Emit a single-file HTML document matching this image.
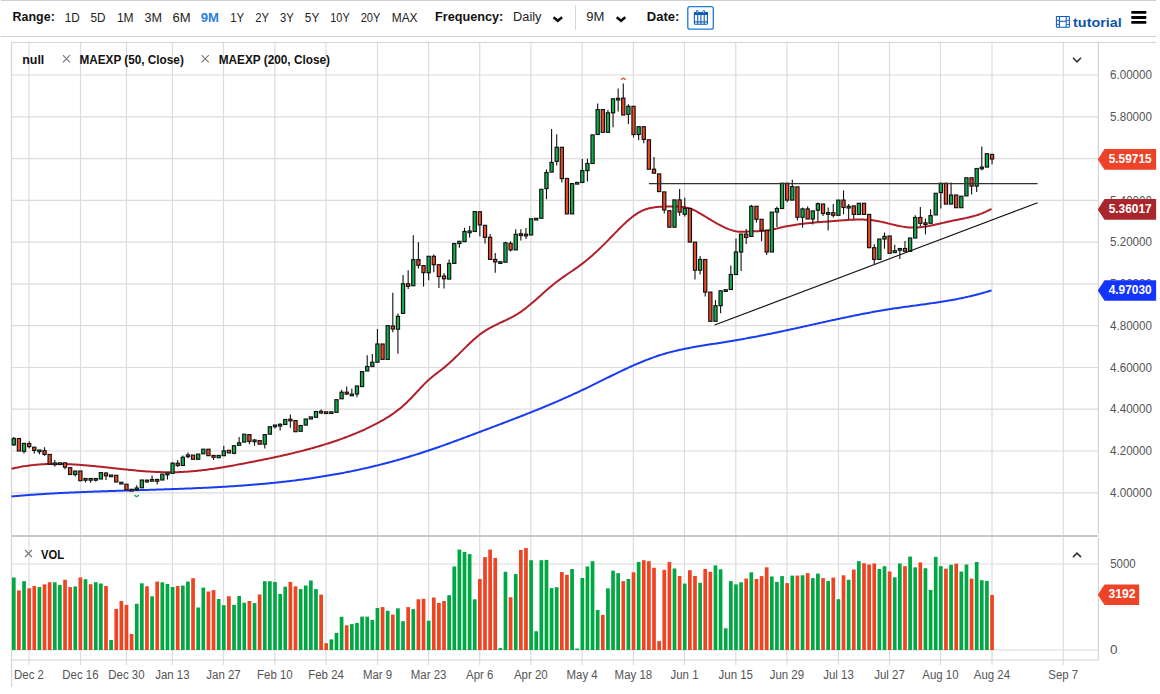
<!DOCTYPE html>
<html><head><meta charset="utf-8"><style>
html,body{margin:0;padding:0;background:#fff;width:1160px;height:694px;overflow:hidden}
svg{display:block;font-family:"Liberation Sans",sans-serif}
</style></head><body>
<svg width="1160" height="694" viewBox="0 0 1160 694">
<rect x="1" y="0" width="1155" height="1" fill="#d0d0d0"/>
<rect x="1" y="36" width="1155" height="1" fill="#d0d0d0"/>
<text x="12.6" y="21.4" font-size="12" font-weight="bold" fill="#111" textLength="42.2" lengthAdjust="spacingAndGlyphs">Range:</text>
<text x="64.7" y="22.3" font-size="12" font-weight="normal" fill="#222" textLength="15.0" lengthAdjust="spacingAndGlyphs">1D</text>
<text x="90.5" y="22.3" font-size="12" font-weight="normal" fill="#222" textLength="15.0" lengthAdjust="spacingAndGlyphs">5D</text>
<text x="116.9" y="22.3" font-size="12" font-weight="normal" fill="#222" textLength="16.7" lengthAdjust="spacingAndGlyphs">1M</text>
<text x="144.5" y="22.3" font-size="12" font-weight="normal" fill="#222" textLength="17.5" lengthAdjust="spacingAndGlyphs">3M</text>
<text x="172.4" y="22.3" font-size="12" font-weight="normal" fill="#222" textLength="18.1" lengthAdjust="spacingAndGlyphs">6M</text>
<text x="200.8" y="22.3" font-size="12" font-weight="bold" fill="#2d7fe0" textLength="18.2" lengthAdjust="spacingAndGlyphs">9M</text>
<text x="230.3" y="22.3" font-size="12" font-weight="normal" fill="#222" textLength="13.9" lengthAdjust="spacingAndGlyphs">1Y</text>
<text x="255.2" y="22.3" font-size="12" font-weight="normal" fill="#222" textLength="13.8" lengthAdjust="spacingAndGlyphs">2Y</text>
<text x="280.0" y="22.3" font-size="12" font-weight="normal" fill="#222" textLength="13.9" lengthAdjust="spacingAndGlyphs">3Y</text>
<text x="304.8" y="22.3" font-size="12" font-weight="normal" fill="#222" textLength="14.5" lengthAdjust="spacingAndGlyphs">5Y</text>
<text x="330.3" y="22.3" font-size="12" font-weight="normal" fill="#222" textLength="19.4" lengthAdjust="spacingAndGlyphs">10Y</text>
<text x="360.7" y="22.3" font-size="12" font-weight="normal" fill="#222" textLength="19.7" lengthAdjust="spacingAndGlyphs">20Y</text>
<text x="391.7" y="22.3" font-size="12" font-weight="normal" fill="#222" textLength="25.9" lengthAdjust="spacingAndGlyphs">MAX</text>
<text x="435.0" y="21.4" font-size="12" font-weight="bold" fill="#111" textLength="68.3" lengthAdjust="spacingAndGlyphs">Frequency:</text>
<text x="513.1" y="21.4" font-size="12" font-weight="normal" fill="#222" textLength="28.4" lengthAdjust="spacingAndGlyphs">Daily</text>
<polyline points="553.5,17.2 557.8,20.8 562.1,17.2" fill="none" stroke="#111" stroke-width="2.5"/>
<rect x="575" y="5" width="1" height="25" fill="#d8d8d8"/>
<text x="586.3" y="21.4" font-size="12" font-weight="normal" fill="#222" textLength="18.1" lengthAdjust="spacingAndGlyphs">9M</text>
<polyline points="616.7,17.2 621.0,20.8 625.3,17.2" fill="none" stroke="#111" stroke-width="2.5"/>
<text x="646.8" y="21.4" font-size="12" font-weight="bold" fill="#111" textLength="32.6" lengthAdjust="spacingAndGlyphs">Date:</text>
<rect x="687.8" y="6.7" width="25.5" height="22.5" rx="2" fill="#fff" stroke="#1f7ad8" stroke-width="1.3"/>
<g fill="none" stroke="#0d5cb6" stroke-width="1.1"><rect x="694.4" y="12.6" width="13" height="11.6" rx="0.6"/><line x1="697.7" y1="14" x2="697.7" y2="24.2"/><line x1="700.9" y1="14" x2="700.9" y2="24.2"/><line x1="704.2" y1="14" x2="704.2" y2="24.2"/><line x1="694.4" y1="21.9" x2="707.4" y2="21.9"/></g>
<g fill="#0d5cb6"><rect x="694" y="12.1" width="13.8" height="2.8" rx="0.6"/><rect x="695.9" y="10.2" width="2.5" height="3.4" rx="0.8"/><rect x="702.5" y="10.2" width="2.5" height="3.4" rx="0.8"/></g>
<g fill="#fff"><rect x="696.8" y="10.9" width="0.7" height="2.2"/><rect x="703.4" y="10.9" width="0.7" height="2.2"/></g>
<g fill="none" stroke="#0b5cc0" stroke-width="1.05"><rect x="1056.4" y="16.4" width="13" height="10.9" rx="0.6"/><line x1="1059.4" y1="16.4" x2="1059.4" y2="27.3"/><line x1="1066.2" y1="16.4" x2="1066.2" y2="27.3"/><line x1="1059.4" y1="21.3" x2="1066.2" y2="21.3"/></g>
<g fill="#0b5cc0"><rect x="1056.4" y="19.9" width="3" height="0.9"/><rect x="1056.4" y="23.9" width="3" height="0.9"/><rect x="1066.2" y="19.9" width="3" height="0.9"/><rect x="1066.2" y="23.9" width="3" height="0.9"/></g>
<text x="1073.1" y="26.7" font-size="13" font-weight="bold" fill="#0b55a8" textLength="48.6" lengthAdjust="spacingAndGlyphs">tutorial</text>
<g fill="#000"><rect x="1131.2" y="10.9" width="15.2" height="2.9" rx="0.8"/><rect x="1131.2" y="16.0" width="15.2" height="2.9" rx="0.8"/><rect x="1131.2" y="20.9" width="15.2" height="2.9" rx="0.8"/></g>
<line x1="29.0" y1="42.5" x2="29.0" y2="665" stroke="#dcdcdc" stroke-width="1.2"/>
<line x1="80.5" y1="42.5" x2="80.5" y2="665" stroke="#dcdcdc" stroke-width="1.2"/>
<line x1="126.5" y1="42.5" x2="126.5" y2="665" stroke="#dcdcdc" stroke-width="1.2"/>
<line x1="172.4" y1="42.5" x2="172.4" y2="665" stroke="#dcdcdc" stroke-width="1.2"/>
<line x1="223.5" y1="42.5" x2="223.5" y2="665" stroke="#dcdcdc" stroke-width="1.2"/>
<line x1="274.8" y1="42.5" x2="274.8" y2="665" stroke="#dcdcdc" stroke-width="1.2"/>
<line x1="326" y1="42.5" x2="326" y2="665" stroke="#dcdcdc" stroke-width="1.2"/>
<line x1="377.5" y1="42.5" x2="377.5" y2="665" stroke="#dcdcdc" stroke-width="1.2"/>
<line x1="428.6" y1="42.5" x2="428.6" y2="665" stroke="#dcdcdc" stroke-width="1.2"/>
<line x1="479.7" y1="42.5" x2="479.7" y2="665" stroke="#dcdcdc" stroke-width="1.2"/>
<line x1="530.8" y1="42.5" x2="530.8" y2="665" stroke="#dcdcdc" stroke-width="1.2"/>
<line x1="582.1" y1="42.5" x2="582.1" y2="665" stroke="#dcdcdc" stroke-width="1.2"/>
<line x1="633.4" y1="42.5" x2="633.4" y2="665" stroke="#dcdcdc" stroke-width="1.2"/>
<line x1="684.5" y1="42.5" x2="684.5" y2="665" stroke="#dcdcdc" stroke-width="1.2"/>
<line x1="735.8" y1="42.5" x2="735.8" y2="665" stroke="#dcdcdc" stroke-width="1.2"/>
<line x1="786.9" y1="42.5" x2="786.9" y2="665" stroke="#dcdcdc" stroke-width="1.2"/>
<line x1="838.5" y1="42.5" x2="838.5" y2="665" stroke="#dcdcdc" stroke-width="1.2"/>
<line x1="889.5" y1="42.5" x2="889.5" y2="665" stroke="#dcdcdc" stroke-width="1.2"/>
<line x1="940.5" y1="42.5" x2="940.5" y2="665" stroke="#dcdcdc" stroke-width="1.2"/>
<line x1="992" y1="42.5" x2="992" y2="665" stroke="#dcdcdc" stroke-width="1.2"/>
<line x1="1063.3" y1="42.5" x2="1063.3" y2="665" stroke="#dcdcdc" stroke-width="1.2"/>
<line x1="11.5" y1="75.0" x2="1098.4" y2="75.0" stroke="#dcdcdc" stroke-width="1.2"/>
<line x1="11.5" y1="116.8" x2="1098.4" y2="116.8" stroke="#dcdcdc" stroke-width="1.2"/>
<line x1="11.5" y1="158.6" x2="1098.4" y2="158.6" stroke="#dcdcdc" stroke-width="1.2"/>
<line x1="11.5" y1="200.3" x2="1098.4" y2="200.3" stroke="#dcdcdc" stroke-width="1.2"/>
<line x1="11.5" y1="242.1" x2="1098.4" y2="242.1" stroke="#dcdcdc" stroke-width="1.2"/>
<line x1="11.5" y1="283.9" x2="1098.4" y2="283.9" stroke="#dcdcdc" stroke-width="1.2"/>
<line x1="11.5" y1="325.7" x2="1098.4" y2="325.7" stroke="#dcdcdc" stroke-width="1.2"/>
<line x1="11.5" y1="367.5" x2="1098.4" y2="367.5" stroke="#dcdcdc" stroke-width="1.2"/>
<line x1="11.5" y1="409.2" x2="1098.4" y2="409.2" stroke="#dcdcdc" stroke-width="1.2"/>
<line x1="11.5" y1="451.0" x2="1098.4" y2="451.0" stroke="#dcdcdc" stroke-width="1.2"/>
<line x1="11.5" y1="492.8" x2="1098.4" y2="492.8" stroke="#dcdcdc" stroke-width="1.2"/>
<line x1="11.5" y1="564" x2="1098.4" y2="564" stroke="#dcdcdc" stroke-width="1.2"/>
<line x1="11.5" y1="650" x2="1098.4" y2="650" stroke="#dcdcdc" stroke-width="1.2"/>
<line x1="11.5" y1="42.5" x2="1156" y2="42.5" stroke="#d4d4d4" stroke-width="1.2"/>
<line x1="11.5" y1="42.5" x2="11.5" y2="687" stroke="#d4d4d4" stroke-width="1.2"/>
<line x1="1098.4" y1="42.5" x2="1098.4" y2="533.6" stroke="#d4d4d4" stroke-width="1.2"/>
<line x1="1098.4" y1="538.1" x2="1098.4" y2="660" stroke="#d4d4d4" stroke-width="1.2"/>
<line x1="11.5" y1="536" x2="1097.9" y2="536" stroke="#c8c8c8" stroke-width="2"/>
<line x1="11.5" y1="660" x2="1098.4" y2="660" stroke="#d4d4d4" stroke-width="1.2"/>
<text x="22.3" y="63.8" font-size="12" font-weight="bold" fill="#111" textLength="22.0" lengthAdjust="spacingAndGlyphs">null</text>
<path d="M62.9,55.1L70.1,62.3M70.1,55.1L62.9,62.3" stroke="#777" stroke-width="1.1" fill="none"/>
<text x="79.5" y="63.8" font-size="12" font-weight="bold" fill="#111" textLength="104.3" lengthAdjust="spacingAndGlyphs">MAEXP (50, Close)</text>
<path d="M201.6,55.1L208.8,62.3M208.8,55.1L201.6,62.3" stroke="#777" stroke-width="1.1" fill="none"/>
<text x="218.7" y="63.8" font-size="12" font-weight="bold" fill="#111" textLength="111.3" lengthAdjust="spacingAndGlyphs">MAEXP (200, Close)</text>
<polyline points="1073.0,57.8 1077.0,61.8 1081.0,57.8" fill="none" stroke="#333" stroke-width="1.6"/>
<polyline points="1073.0,557.1 1077.0,553.1 1081.0,557.1" fill="none" stroke="#333" stroke-width="1.6"/>
<path d="M25.0,550.0L32.0,557.0M32.0,550.0L25.0,557.0" stroke="#777" stroke-width="1.1" fill="none"/>
<text x="41.0" y="559.0" font-size="12" font-weight="bold" fill="#111" textLength="23.0" lengthAdjust="spacingAndGlyphs">VOL</text>
<text x="1110.0" y="79.2" font-size="12" font-weight="normal" fill="#555" textLength="42.0" lengthAdjust="spacingAndGlyphs">6.00000</text>
<text x="1110.0" y="121.0" font-size="12" font-weight="normal" fill="#555" textLength="42.0" lengthAdjust="spacingAndGlyphs">5.80000</text>
<text x="1110.0" y="162.8" font-size="12" font-weight="normal" fill="#555" textLength="42.0" lengthAdjust="spacingAndGlyphs">5.60000</text>
<text x="1110.0" y="204.5" font-size="12" font-weight="normal" fill="#555" textLength="42.0" lengthAdjust="spacingAndGlyphs">5.40000</text>
<text x="1110.0" y="246.3" font-size="12" font-weight="normal" fill="#555" textLength="42.0" lengthAdjust="spacingAndGlyphs">5.20000</text>
<text x="1110.0" y="288.1" font-size="12" font-weight="normal" fill="#555" textLength="42.0" lengthAdjust="spacingAndGlyphs">5.00000</text>
<text x="1110.0" y="329.9" font-size="12" font-weight="normal" fill="#555" textLength="42.0" lengthAdjust="spacingAndGlyphs">4.80000</text>
<text x="1110.0" y="371.7" font-size="12" font-weight="normal" fill="#555" textLength="42.0" lengthAdjust="spacingAndGlyphs">4.60000</text>
<text x="1110.0" y="413.4" font-size="12" font-weight="normal" fill="#555" textLength="42.0" lengthAdjust="spacingAndGlyphs">4.40000</text>
<text x="1110.0" y="455.2" font-size="12" font-weight="normal" fill="#555" textLength="42.0" lengthAdjust="spacingAndGlyphs">4.20000</text>
<text x="1110.0" y="497.0" font-size="12" font-weight="normal" fill="#555" textLength="42.0" lengthAdjust="spacingAndGlyphs">4.00000</text>
<text x="1110.2" y="568.2" font-size="12" font-weight="normal" fill="#555" textLength="25.5" lengthAdjust="spacingAndGlyphs">5000</text>
<text x="1110.0" y="654.0" font-size="12" font-weight="normal" fill="#555" textLength="7.5" lengthAdjust="spacingAndGlyphs">0</text>
<text x="14.0" y="678.7" font-size="12" font-weight="normal" fill="#555" textLength="29.9" lengthAdjust="spacingAndGlyphs">Dec 2</text>
<text x="62.3" y="678.7" font-size="12" font-weight="normal" fill="#555" textLength="36.3" lengthAdjust="spacingAndGlyphs">Dec 16</text>
<text x="108.3" y="678.7" font-size="12" font-weight="normal" fill="#555" textLength="36.3" lengthAdjust="spacingAndGlyphs">Dec 30</text>
<text x="155.2" y="678.7" font-size="12" font-weight="normal" fill="#555" textLength="34.4" lengthAdjust="spacingAndGlyphs">Jan 13</text>
<text x="206.3" y="678.7" font-size="12" font-weight="normal" fill="#555" textLength="34.4" lengthAdjust="spacingAndGlyphs">Jan 27</text>
<text x="257.0" y="678.7" font-size="12" font-weight="normal" fill="#555" textLength="35.7" lengthAdjust="spacingAndGlyphs">Feb 10</text>
<text x="308.2" y="678.7" font-size="12" font-weight="normal" fill="#555" textLength="35.7" lengthAdjust="spacingAndGlyphs">Feb 24</text>
<text x="362.9" y="678.7" font-size="12" font-weight="normal" fill="#555" textLength="29.3" lengthAdjust="spacingAndGlyphs">Mar 9</text>
<text x="410.8" y="678.7" font-size="12" font-weight="normal" fill="#555" textLength="35.7" lengthAdjust="spacingAndGlyphs">Mar 23</text>
<text x="466.0" y="678.7" font-size="12" font-weight="normal" fill="#555" textLength="27.4" lengthAdjust="spacingAndGlyphs">Apr 6</text>
<text x="513.9" y="678.7" font-size="12" font-weight="normal" fill="#555" textLength="33.8" lengthAdjust="spacingAndGlyphs">Apr 20</text>
<text x="566.5" y="678.7" font-size="12" font-weight="normal" fill="#555" textLength="31.2" lengthAdjust="spacingAndGlyphs">May 4</text>
<text x="614.6" y="678.7" font-size="12" font-weight="normal" fill="#555" textLength="37.6" lengthAdjust="spacingAndGlyphs">May 18</text>
<text x="670.5" y="678.7" font-size="12" font-weight="normal" fill="#555" textLength="28.0" lengthAdjust="spacingAndGlyphs">Jun 1</text>
<text x="718.6" y="678.7" font-size="12" font-weight="normal" fill="#555" textLength="34.4" lengthAdjust="spacingAndGlyphs">Jun 15</text>
<text x="769.7" y="678.7" font-size="12" font-weight="normal" fill="#555" textLength="34.4" lengthAdjust="spacingAndGlyphs">Jun 29</text>
<text x="823.2" y="678.7" font-size="12" font-weight="normal" fill="#555" textLength="30.6" lengthAdjust="spacingAndGlyphs">Jul 13</text>
<text x="874.2" y="678.7" font-size="12" font-weight="normal" fill="#555" textLength="30.6" lengthAdjust="spacingAndGlyphs">Jul 27</text>
<text x="922.3" y="678.7" font-size="12" font-weight="normal" fill="#555" textLength="36.3" lengthAdjust="spacingAndGlyphs">Aug 10</text>
<text x="973.8" y="678.7" font-size="12" font-weight="normal" fill="#555" textLength="36.3" lengthAdjust="spacingAndGlyphs">Aug 24</text>
<text x="1048.3" y="678.7" font-size="12" font-weight="normal" fill="#555" textLength="29.9" lengthAdjust="spacingAndGlyphs">Sep 7</text>
<path d="M11.5,496.39 L13.0,496.26 L14.5,496.13 L16.0,496.00 L17.5,495.88 L19.0,495.75 L20.5,495.63 L22.0,495.51 L23.5,495.40 L25.0,495.28 L26.5,495.17 L28.0,495.06 L29.5,494.95 L31.0,494.84 L32.5,494.73 L34.0,494.63 L35.5,494.53 L37.0,494.43 L38.5,494.33 L40.0,494.23 L41.5,494.13 L43.0,494.04 L44.5,493.95 L46.0,493.86 L47.5,493.77 L49.0,493.68 L50.5,493.59 L52.0,493.51 L53.5,493.42 L55.0,493.34 L56.5,493.26 L58.0,493.18 L59.5,493.10 L61.0,493.02 L62.5,492.95 L64.0,492.87 L65.5,492.80 L67.0,492.73 L68.5,492.66 L70.0,492.59 L71.5,492.52 L73.0,492.45 L74.5,492.39 L76.0,492.32 L77.5,492.26 L79.0,492.19 L80.5,492.13 L82.0,492.07 L83.5,492.01 L85.0,491.95 L86.5,491.89 L88.0,491.83 L89.5,491.77 L91.0,491.72 L92.5,491.66 L94.0,491.60 L95.5,491.55 L97.0,491.50 L98.5,491.44 L100.0,491.39 L101.5,491.34 L103.0,491.29 L104.5,491.24 L106.0,491.19 L107.5,491.14 L109.0,491.09 L110.5,491.04 L112.0,490.99 L113.5,490.94 L115.0,490.90 L116.5,490.85 L118.0,490.80 L119.5,490.76 L121.0,490.71 L122.5,490.66 L124.0,490.62 L125.5,490.57 L127.0,490.53 L128.5,490.48 L130.0,490.44 L131.5,490.39 L133.0,490.35 L134.5,490.30 L136.0,490.26 L137.5,490.21 L139.0,490.17 L140.5,490.12 L142.0,490.08 L143.5,490.03 L145.0,489.99 L146.5,489.94 L148.0,489.90 L149.5,489.85 L151.0,489.80 L152.5,489.76 L154.0,489.71 L155.5,489.66 L157.0,489.62 L158.5,489.57 L160.0,489.52 L161.5,489.47 L163.0,489.42 L164.5,489.37 L166.0,489.32 L167.5,489.27 L169.0,489.22 L170.5,489.17 L172.0,489.12 L173.5,489.07 L175.0,489.01 L176.5,488.96 L178.0,488.91 L179.5,488.85 L181.0,488.79 L182.5,488.74 L184.0,488.68 L185.5,488.62 L187.0,488.56 L188.5,488.50 L190.0,488.44 L191.5,488.38 L193.0,488.32 L194.5,488.25 L196.0,488.19 L197.5,488.12 L199.0,488.05 L200.5,487.99 L202.0,487.92 L203.5,487.85 L205.0,487.78 L206.5,487.70 L208.0,487.63 L209.5,487.55 L211.0,487.48 L212.5,487.40 L214.0,487.32 L215.5,487.24 L217.0,487.16 L218.5,487.08 L220.0,486.99 L221.5,486.91 L223.0,486.82 L224.5,486.73 L226.0,486.64 L227.5,486.55 L229.0,486.46 L230.5,486.36 L232.0,486.27 L233.5,486.17 L235.0,486.07 L236.5,485.97 L238.0,485.86 L239.5,485.76 L241.0,485.65 L242.5,485.55 L244.0,485.44 L245.5,485.32 L247.0,485.21 L248.5,485.09 L250.0,484.98 L251.5,484.86 L253.0,484.74 L254.5,484.61 L256.0,484.49 L257.5,484.36 L259.0,484.23 L260.5,484.10 L262.0,483.97 L263.5,483.83 L265.0,483.69 L266.5,483.55 L268.0,483.41 L269.5,483.26 L271.0,483.12 L272.5,482.97 L274.0,482.82 L275.5,482.66 L277.0,482.51 L278.5,482.35 L280.0,482.19 L281.5,482.02 L283.0,481.86 L284.5,481.69 L286.0,481.52 L287.5,481.34 L289.0,481.17 L290.5,480.99 L292.0,480.81 L293.5,480.63 L295.0,480.44 L296.5,480.25 L298.0,480.06 L299.5,479.86 L301.0,479.67 L302.5,479.47 L304.0,479.26 L305.5,479.06 L307.0,478.85 L308.5,478.64 L310.0,478.42 L311.5,478.20 L313.0,477.98 L314.5,477.76 L316.0,477.53 L317.5,477.30 L319.0,477.07 L320.5,476.83 L322.0,476.60 L323.5,476.35 L325.0,476.11 L326.5,475.86 L328.0,475.61 L329.5,475.35 L331.0,475.10 L332.5,474.83 L334.0,474.57 L335.5,474.30 L337.0,474.03 L338.5,473.75 L340.0,473.48 L341.5,473.19 L343.0,472.91 L344.5,472.62 L346.0,472.33 L347.5,472.03 L349.0,471.73 L350.5,471.43 L352.0,471.12 L353.5,470.81 L355.0,470.50 L356.5,470.18 L358.0,469.86 L359.5,469.53 L361.0,469.21 L362.5,468.87 L364.0,468.54 L365.5,468.20 L367.0,467.85 L368.5,467.51 L370.0,467.16 L371.5,466.80 L373.0,466.44 L374.5,466.08 L376.0,465.72 L377.5,465.35 L379.0,464.97 L380.5,464.60 L382.0,464.22 L383.5,463.83 L385.0,463.45 L386.5,463.05 L388.0,462.66 L389.5,462.26 L391.0,461.86 L392.5,461.45 L394.0,461.04 L395.5,460.62 L397.0,460.21 L398.5,459.78 L400.0,459.36 L401.5,458.93 L403.0,458.50 L404.5,458.06 L406.0,457.62 L407.5,457.17 L409.0,456.72 L410.5,456.27 L412.0,455.82 L413.5,455.36 L415.0,454.89 L416.5,454.42 L418.0,453.95 L419.5,453.48 L421.0,453.00 L422.5,452.51 L424.0,452.03 L425.5,451.54 L427.0,451.04 L428.5,450.54 L430.0,450.04 L431.5,449.53 L433.0,449.02 L434.5,448.51 L436.0,447.99 L437.5,447.47 L439.0,446.95 L440.5,446.42 L442.0,445.89 L443.5,445.36 L445.0,444.82 L446.5,444.28 L448.0,443.74 L449.5,443.20 L451.0,442.65 L452.5,442.11 L454.0,441.56 L455.5,441.01 L457.0,440.45 L458.5,439.90 L460.0,439.34 L461.5,438.78 L463.0,438.23 L464.5,437.67 L466.0,437.10 L467.5,436.54 L469.0,435.98 L470.5,435.42 L472.0,434.85 L473.5,434.29 L475.0,433.72 L476.5,433.16 L478.0,432.59 L479.5,432.03 L481.0,431.46 L482.5,430.90 L484.0,430.33 L485.5,429.77 L487.0,429.20 L488.5,428.64 L490.0,428.07 L491.5,427.51 L493.0,426.94 L494.5,426.38 L496.0,425.81 L497.5,425.24 L499.0,424.67 L500.5,424.10 L502.0,423.54 L503.5,422.97 L505.0,422.39 L506.5,421.82 L508.0,421.25 L509.5,420.67 L511.0,420.10 L512.5,419.52 L514.0,418.94 L515.5,418.37 L517.0,417.78 L518.5,417.20 L520.0,416.62 L521.5,416.03 L523.0,415.45 L524.5,414.86 L526.0,414.27 L527.5,413.67 L529.0,413.08 L530.5,412.48 L532.0,411.88 L533.5,411.28 L535.0,410.68 L536.5,410.07 L538.0,409.46 L539.5,408.85 L541.0,408.24 L542.5,407.62 L544.0,407.00 L545.5,406.38 L547.0,405.76 L548.5,405.13 L550.0,404.50 L551.5,403.86 L553.0,403.23 L554.5,402.59 L556.0,401.95 L557.5,401.30 L559.0,400.65 L560.5,400.00 L562.0,399.34 L563.5,398.68 L565.0,398.01 L566.5,397.35 L568.0,396.68 L569.5,396.00 L571.0,395.32 L572.5,394.64 L574.0,393.95 L575.5,393.26 L577.0,392.56 L578.5,391.86 L580.0,391.16 L581.5,390.45 L583.0,389.73 L584.5,389.02 L586.0,388.29 L587.5,387.57 L589.0,386.84 L590.5,386.11 L592.0,385.37 L593.5,384.64 L595.0,383.90 L596.5,383.16 L598.0,382.42 L599.5,381.68 L601.0,380.93 L602.5,380.19 L604.0,379.45 L605.5,378.71 L607.0,377.97 L608.5,377.23 L610.0,376.49 L611.5,375.75 L613.0,375.02 L614.5,374.29 L616.0,373.56 L617.5,372.84 L619.0,372.11 L620.5,371.40 L622.0,370.69 L623.5,369.98 L625.0,369.27 L626.5,368.58 L628.0,367.89 L629.5,367.20 L631.0,366.52 L632.5,365.85 L634.0,365.19 L635.5,364.53 L637.0,363.88 L638.5,363.24 L640.0,362.61 L641.5,361.98 L643.0,361.37 L644.5,360.76 L646.0,360.17 L647.5,359.58 L649.0,359.01 L650.5,358.45 L652.0,357.90 L653.5,357.36 L655.0,356.83 L656.5,356.31 L658.0,355.81 L659.5,355.32 L661.0,354.85 L662.5,354.38 L664.0,353.93 L665.5,353.50 L667.0,353.07 L668.5,352.66 L670.0,352.26 L671.5,351.87 L673.0,351.49 L674.5,351.12 L676.0,350.76 L677.5,350.41 L679.0,350.06 L680.5,349.73 L682.0,349.41 L683.5,349.09 L685.0,348.78 L686.5,348.48 L688.0,348.19 L689.5,347.90 L691.0,347.62 L692.5,347.34 L694.0,347.07 L695.5,346.81 L697.0,346.55 L698.5,346.29 L700.0,346.04 L701.5,345.79 L703.0,345.54 L704.5,345.30 L706.0,345.06 L707.5,344.82 L709.0,344.58 L710.5,344.34 L712.0,344.11 L713.5,343.87 L715.0,343.64 L716.5,343.40 L718.0,343.16 L719.5,342.93 L721.0,342.69 L722.5,342.45 L724.0,342.21 L725.5,341.96 L727.0,341.72 L728.5,341.47 L730.0,341.22 L731.5,340.97 L733.0,340.72 L734.5,340.46 L736.0,340.21 L737.5,339.95 L739.0,339.69 L740.5,339.43 L742.0,339.16 L743.5,338.90 L745.0,338.63 L746.5,338.36 L748.0,338.08 L749.5,337.81 L751.0,337.53 L752.5,337.25 L754.0,336.97 L755.5,336.69 L757.0,336.40 L758.5,336.11 L760.0,335.82 L761.5,335.53 L763.0,335.23 L764.5,334.94 L766.0,334.64 L767.5,334.33 L769.0,334.03 L770.5,333.72 L772.0,333.41 L773.5,333.10 L775.0,332.79 L776.5,332.48 L778.0,332.16 L779.5,331.85 L781.0,331.53 L782.5,331.21 L784.0,330.89 L785.5,330.56 L787.0,330.24 L788.5,329.91 L790.0,329.59 L791.5,329.26 L793.0,328.93 L794.5,328.61 L796.0,328.28 L797.5,327.95 L799.0,327.61 L800.5,327.28 L802.0,326.95 L803.5,326.62 L805.0,326.29 L806.5,325.95 L808.0,325.62 L809.5,325.29 L811.0,324.95 L812.5,324.62 L814.0,324.29 L815.5,323.95 L817.0,323.62 L818.5,323.29 L820.0,322.95 L821.5,322.62 L823.0,322.29 L824.5,321.96 L826.0,321.63 L827.5,321.30 L829.0,320.97 L830.5,320.64 L832.0,320.32 L833.5,319.99 L835.0,319.66 L836.5,319.34 L838.0,319.02 L839.5,318.70 L841.0,318.38 L842.5,318.06 L844.0,317.74 L845.5,317.43 L847.0,317.11 L848.5,316.80 L850.0,316.49 L851.5,316.18 L853.0,315.87 L854.5,315.57 L856.0,315.27 L857.5,314.97 L859.0,314.67 L860.5,314.37 L862.0,314.08 L863.5,313.79 L865.0,313.50 L866.5,313.21 L868.0,312.93 L869.5,312.65 L871.0,312.37 L872.5,312.10 L874.0,311.83 L875.5,311.56 L877.0,311.29 L878.5,311.03 L880.0,310.77 L881.5,310.51 L883.0,310.26 L884.5,310.01 L886.0,309.76 L887.5,309.52 L889.0,309.28 L890.5,309.05 L892.0,308.82 L893.5,308.59 L895.0,308.36 L896.5,308.14 L898.0,307.92 L899.5,307.70 L901.0,307.49 L902.5,307.28 L904.0,307.07 L905.5,306.86 L907.0,306.65 L908.5,306.44 L910.0,306.24 L911.5,306.03 L913.0,305.83 L914.5,305.63 L916.0,305.42 L917.5,305.22 L919.0,305.01 L920.5,304.81 L922.0,304.60 L923.5,304.40 L925.0,304.19 L926.5,303.98 L928.0,303.77 L929.5,303.56 L931.0,303.34 L932.5,303.12 L934.0,302.90 L935.5,302.68 L937.0,302.46 L938.5,302.23 L940.0,301.99 L941.5,301.76 L943.0,301.52 L944.5,301.27 L946.0,301.03 L947.5,300.77 L949.0,300.52 L950.5,300.25 L952.0,299.99 L953.5,299.71 L955.0,299.43 L956.5,299.15 L958.0,298.86 L959.5,298.56 L961.0,298.26 L962.5,297.95 L964.0,297.63 L965.5,297.31 L967.0,296.98 L968.5,296.64 L970.0,296.29 L971.5,295.94 L973.0,295.57 L974.5,295.20 L976.0,294.82 L977.5,294.43 L979.0,294.03 L980.5,293.63 L982.0,293.21 L983.5,292.78 L985.0,292.35 L986.5,291.90 L988.0,291.44 L989.5,290.97 L991.0,290.49 L991.5,290.33" fill="none" stroke="#1a3cf0" stroke-width="2" stroke-linejoin="round"/>
<path d="M11.5,468.77 L13.0,468.41 L14.5,468.08 L16.0,467.75 L17.5,467.44 L19.0,467.15 L20.5,466.87 L22.0,466.61 L23.5,466.35 L25.0,466.12 L26.5,465.89 L28.0,465.68 L29.5,465.49 L31.0,465.30 L32.5,465.13 L34.0,464.97 L35.5,464.82 L37.0,464.69 L38.5,464.56 L40.0,464.45 L41.5,464.35 L43.0,464.26 L44.5,464.18 L46.0,464.11 L47.5,464.05 L49.0,464.00 L50.5,463.96 L52.0,463.94 L53.5,463.92 L55.0,463.90 L56.5,463.90 L58.0,463.91 L59.5,463.93 L61.0,463.95 L62.5,463.98 L64.0,464.02 L65.5,464.07 L67.0,464.12 L68.5,464.18 L70.0,464.25 L71.5,464.33 L73.0,464.41 L74.5,464.49 L76.0,464.59 L77.5,464.69 L79.0,464.79 L80.5,464.90 L82.0,465.01 L83.5,465.13 L85.0,465.26 L86.5,465.39 L88.0,465.52 L89.5,465.65 L91.0,465.79 L92.5,465.94 L94.0,466.08 L95.5,466.23 L97.0,466.38 L98.5,466.54 L100.0,466.69 L101.5,466.85 L103.0,467.01 L104.5,467.17 L106.0,467.34 L107.5,467.50 L109.0,467.67 L110.5,467.83 L112.0,468.00 L113.5,468.16 L115.0,468.33 L116.5,468.49 L118.0,468.66 L119.5,468.82 L121.0,468.99 L122.5,469.15 L124.0,469.31 L125.5,469.47 L127.0,469.62 L128.5,469.78 L130.0,469.93 L131.5,470.08 L133.0,470.23 L134.5,470.37 L136.0,470.51 L137.5,470.65 L139.0,470.78 L140.5,470.91 L142.0,471.03 L143.5,471.15 L145.0,471.27 L146.5,471.38 L148.0,471.49 L149.5,471.59 L151.0,471.68 L152.5,471.77 L154.0,471.85 L155.5,471.93 L157.0,472.00 L158.5,472.06 L160.0,472.11 L161.5,472.16 L163.0,472.20 L164.5,472.24 L166.0,472.26 L167.5,472.28 L169.0,472.29 L170.5,472.29 L172.0,472.28 L173.5,472.26 L175.0,472.23 L176.5,472.19 L178.0,472.15 L179.5,472.09 L181.0,472.03 L182.5,471.95 L184.0,471.87 L185.5,471.78 L187.0,471.68 L188.5,471.57 L190.0,471.46 L191.5,471.34 L193.0,471.21 L194.5,471.07 L196.0,470.92 L197.5,470.77 L199.0,470.61 L200.5,470.44 L202.0,470.27 L203.5,470.09 L205.0,469.90 L206.5,469.71 L208.0,469.51 L209.5,469.31 L211.0,469.10 L212.5,468.89 L214.0,468.67 L215.5,468.44 L217.0,468.21 L218.5,467.98 L220.0,467.74 L221.5,467.50 L223.0,467.25 L224.5,467.00 L226.0,466.74 L227.5,466.48 L229.0,466.22 L230.5,465.95 L232.0,465.69 L233.5,465.41 L235.0,465.14 L236.5,464.86 L238.0,464.58 L239.5,464.30 L241.0,464.02 L242.5,463.73 L244.0,463.44 L245.5,463.16 L247.0,462.86 L248.5,462.57 L250.0,462.28 L251.5,461.99 L253.0,461.69 L254.5,461.40 L256.0,461.10 L257.5,460.80 L259.0,460.50 L260.5,460.20 L262.0,459.90 L263.5,459.59 L265.0,459.29 L266.5,458.98 L268.0,458.67 L269.5,458.36 L271.0,458.04 L272.5,457.73 L274.0,457.41 L275.5,457.09 L277.0,456.76 L278.5,456.44 L280.0,456.11 L281.5,455.77 L283.0,455.44 L284.5,455.10 L286.0,454.76 L287.5,454.41 L289.0,454.06 L290.5,453.71 L292.0,453.36 L293.5,453.00 L295.0,452.63 L296.5,452.27 L298.0,451.89 L299.5,451.52 L301.0,451.14 L302.5,450.75 L304.0,450.36 L305.5,449.97 L307.0,449.57 L308.5,449.17 L310.0,448.76 L311.5,448.35 L313.0,447.93 L314.5,447.51 L316.0,447.08 L317.5,446.64 L319.0,446.20 L320.5,445.76 L322.0,445.31 L323.5,444.85 L325.0,444.39 L326.5,443.92 L328.0,443.44 L329.5,442.96 L331.0,442.48 L332.5,441.98 L334.0,441.48 L335.5,440.97 L337.0,440.46 L338.5,439.94 L340.0,439.41 L341.5,438.88 L343.0,438.33 L344.5,437.78 L346.0,437.23 L347.5,436.66 L349.0,436.08 L350.5,435.50 L352.0,434.91 L353.5,434.30 L355.0,433.69 L356.5,433.07 L358.0,432.44 L359.5,431.79 L361.0,431.14 L362.5,430.47 L364.0,429.79 L365.5,429.10 L367.0,428.40 L368.5,427.69 L370.0,426.96 L371.5,426.22 L373.0,425.46 L374.5,424.69 L376.0,423.91 L377.5,423.12 L379.0,422.30 L380.5,421.48 L382.0,420.63 L383.5,419.76 L385.0,418.87 L386.5,417.96 L388.0,417.03 L389.5,416.06 L391.0,415.07 L392.5,414.05 L394.0,412.99 L395.5,411.91 L397.0,410.78 L398.5,409.62 L400.0,408.42 L401.5,407.18 L403.0,405.90 L404.5,404.57 L406.0,403.19 L407.5,401.77 L409.0,400.30 L410.5,398.78 L412.0,397.23 L413.5,395.64 L415.0,394.03 L416.5,392.41 L418.0,390.78 L419.5,389.16 L421.0,387.55 L422.5,385.97 L424.0,384.42 L425.5,382.91 L427.0,381.45 L428.5,380.05 L430.0,378.71 L431.5,377.44 L433.0,376.21 L434.5,375.02 L436.0,373.86 L437.5,372.71 L439.0,371.57 L440.5,370.43 L442.0,369.27 L443.5,368.09 L445.0,366.88 L446.5,365.61 L448.0,364.31 L449.5,362.97 L451.0,361.60 L452.5,360.19 L454.0,358.77 L455.5,357.31 L457.0,355.85 L458.5,354.36 L460.0,352.87 L461.5,351.38 L463.0,349.88 L464.5,348.38 L466.0,346.90 L467.5,345.43 L469.0,343.98 L470.5,342.55 L472.0,341.15 L473.5,339.79 L475.0,338.46 L476.5,337.17 L478.0,335.94 L479.5,334.76 L481.0,333.63 L482.5,332.56 L484.0,331.55 L485.5,330.58 L487.0,329.66 L488.5,328.78 L490.0,327.93 L491.5,327.12 L493.0,326.33 L494.5,325.57 L496.0,324.83 L497.5,324.10 L499.0,323.39 L500.5,322.69 L502.0,321.98 L503.5,321.28 L505.0,320.57 L506.5,319.86 L508.0,319.13 L509.5,318.39 L511.0,317.62 L512.5,316.83 L514.0,316.01 L515.5,315.16 L517.0,314.27 L518.5,313.33 L520.0,312.36 L521.5,311.33 L523.0,310.26 L524.5,309.15 L526.0,308.00 L527.5,306.81 L529.0,305.59 L530.5,304.34 L532.0,303.07 L533.5,301.78 L535.0,300.47 L536.5,299.15 L538.0,297.81 L539.5,296.47 L541.0,295.13 L542.5,293.79 L544.0,292.45 L545.5,291.12 L547.0,289.80 L548.5,288.50 L550.0,287.22 L551.5,285.95 L553.0,284.72 L554.5,283.51 L556.0,282.33 L557.5,281.19 L559.0,280.08 L560.5,278.98 L562.0,277.92 L563.5,276.86 L565.0,275.83 L566.5,274.80 L568.0,273.78 L569.5,272.76 L571.0,271.74 L572.5,270.72 L574.0,269.69 L575.5,268.65 L577.0,267.60 L578.5,266.53 L580.0,265.43 L581.5,264.31 L583.0,263.17 L584.5,261.99 L586.0,260.78 L587.5,259.55 L589.0,258.29 L590.5,257.01 L592.0,255.70 L593.5,254.36 L595.0,253.00 L596.5,251.62 L598.0,250.22 L599.5,248.80 L601.0,247.35 L602.5,245.89 L604.0,244.41 L605.5,242.91 L607.0,241.39 L608.5,239.86 L610.0,238.32 L611.5,236.77 L613.0,235.22 L614.5,233.67 L616.0,232.12 L617.5,230.59 L619.0,229.07 L620.5,227.57 L622.0,226.09 L623.5,224.64 L625.0,223.22 L626.5,221.84 L628.0,220.50 L629.5,219.21 L631.0,217.96 L632.5,216.77 L634.0,215.64 L635.5,214.57 L637.0,213.57 L638.5,212.64 L640.0,211.78 L641.5,211.00 L643.0,210.31 L644.5,209.71 L646.0,209.17 L647.5,208.71 L649.0,208.31 L650.5,207.98 L652.0,207.69 L653.5,207.46 L655.0,207.26 L656.5,207.10 L658.0,206.98 L659.5,206.87 L661.0,206.79 L662.5,206.72 L664.0,206.65 L665.5,206.60 L667.0,206.55 L668.5,206.51 L670.0,206.48 L671.5,206.47 L673.0,206.47 L674.5,206.50 L676.0,206.53 L677.5,206.60 L679.0,206.68 L680.5,206.79 L682.0,206.92 L683.5,207.10 L685.0,207.33 L686.5,207.61 L688.0,207.96 L689.5,208.40 L691.0,208.92 L692.5,209.52 L694.0,210.20 L695.5,210.94 L697.0,211.73 L698.5,212.56 L700.0,213.42 L701.5,214.30 L703.0,215.19 L704.5,216.09 L706.0,217.00 L707.5,217.91 L709.0,218.82 L710.5,219.72 L712.0,220.62 L713.5,221.51 L715.0,222.39 L716.5,223.25 L718.0,224.08 L719.5,224.90 L721.0,225.68 L722.5,226.44 L724.0,227.16 L725.5,227.84 L727.0,228.48 L728.5,229.07 L730.0,229.62 L731.5,230.12 L733.0,230.56 L734.5,230.94 L736.0,231.26 L737.5,231.51 L739.0,231.70 L740.5,231.81 L742.0,231.85 L743.5,231.84 L745.0,231.78 L746.5,231.69 L748.0,231.59 L749.5,231.47 L751.0,231.37 L752.5,231.29 L754.0,231.23 L755.5,231.19 L757.0,231.17 L758.5,231.14 L760.0,231.11 L761.5,231.05 L763.0,230.98 L764.5,230.87 L766.0,230.72 L767.5,230.52 L769.0,230.27 L770.5,229.99 L772.0,229.68 L773.5,229.34 L775.0,228.99 L776.5,228.62 L778.0,228.25 L779.5,227.88 L781.0,227.52 L782.5,227.18 L784.0,226.85 L785.5,226.53 L787.0,226.23 L788.5,225.94 L790.0,225.67 L791.5,225.40 L793.0,225.15 L794.5,224.91 L796.0,224.68 L797.5,224.47 L799.0,224.26 L800.5,224.06 L802.0,223.87 L803.5,223.69 L805.0,223.51 L806.5,223.35 L808.0,223.19 L809.5,223.03 L811.0,222.89 L812.5,222.75 L814.0,222.61 L815.5,222.48 L817.0,222.35 L818.5,222.23 L820.0,222.11 L821.5,221.99 L823.0,221.87 L824.5,221.76 L826.0,221.64 L827.5,221.53 L829.0,221.42 L830.5,221.30 L832.0,221.19 L833.5,221.07 L835.0,220.95 L836.5,220.83 L838.0,220.71 L839.5,220.59 L841.0,220.47 L842.5,220.35 L844.0,220.24 L845.5,220.13 L847.0,220.02 L848.5,219.93 L850.0,219.84 L851.5,219.76 L853.0,219.69 L854.5,219.63 L856.0,219.58 L857.5,219.55 L859.0,219.54 L860.5,219.54 L862.0,219.56 L863.5,219.59 L865.0,219.65 L866.5,219.73 L868.0,219.83 L869.5,219.95 L871.0,220.10 L872.5,220.27 L874.0,220.47 L875.5,220.70 L877.0,220.95 L878.5,221.23 L880.0,221.54 L881.5,221.86 L883.0,222.19 L884.5,222.54 L886.0,222.90 L887.5,223.27 L889.0,223.64 L890.5,224.01 L892.0,224.38 L893.5,224.74 L895.0,225.09 L896.5,225.44 L898.0,225.76 L899.5,226.08 L901.0,226.37 L902.5,226.64 L904.0,226.88 L905.5,227.09 L907.0,227.27 L908.5,227.41 L910.0,227.52 L911.5,227.58 L913.0,227.61 L914.5,227.60 L916.0,227.55 L917.5,227.47 L919.0,227.36 L920.5,227.22 L922.0,227.05 L923.5,226.85 L925.0,226.63 L926.5,226.39 L928.0,226.13 L929.5,225.85 L931.0,225.56 L932.5,225.25 L934.0,224.93 L935.5,224.60 L937.0,224.26 L938.5,223.91 L940.0,223.56 L941.5,223.21 L943.0,222.86 L944.5,222.51 L946.0,222.16 L947.5,221.82 L949.0,221.49 L950.5,221.16 L952.0,220.85 L953.5,220.54 L955.0,220.24 L956.5,219.94 L958.0,219.65 L959.5,219.35 L961.0,219.05 L962.5,218.75 L964.0,218.44 L965.5,218.11 L967.0,217.78 L968.5,217.43 L970.0,217.07 L971.5,216.69 L973.0,216.29 L974.5,215.86 L976.0,215.42 L977.5,214.94 L979.0,214.44 L980.5,213.90 L982.0,213.33 L983.5,212.72 L985.0,212.08 L986.5,211.40 L988.0,210.67 L989.5,209.90 L991.0,209.09 L991.5,208.80" fill="none" stroke="#b0202a" stroke-width="2" stroke-linejoin="round"/>
<rect x="11.95" y="577.5" width="3.7" height="72.5" fill="#00a844"/>
<rect x="17.07" y="590.4" width="3.7" height="59.6" fill="#ee4422"/>
<rect x="22.19" y="581.2" width="3.7" height="68.8" fill="#00a844"/>
<rect x="27.32" y="588.3" width="3.7" height="61.7" fill="#ee4422"/>
<rect x="32.44" y="586.0" width="3.7" height="64.0" fill="#ee4422"/>
<rect x="37.56" y="587.0" width="3.7" height="63.0" fill="#00a844"/>
<rect x="42.68" y="584.4" width="3.7" height="65.6" fill="#ee4422"/>
<rect x="47.80" y="582.2" width="3.7" height="67.8" fill="#ee4422"/>
<rect x="52.92" y="582.3" width="3.7" height="67.7" fill="#00a844"/>
<rect x="58.05" y="585.0" width="3.7" height="65.0" fill="#00a844"/>
<rect x="63.17" y="579.8" width="3.7" height="70.2" fill="#ee4422"/>
<rect x="68.29" y="587.1" width="3.7" height="62.9" fill="#ee4422"/>
<rect x="73.41" y="586.4" width="3.7" height="63.6" fill="#00a844"/>
<rect x="78.53" y="577.4" width="3.7" height="72.6" fill="#ee4422"/>
<rect x="83.65" y="579.2" width="3.7" height="70.8" fill="#00a844"/>
<rect x="88.78" y="584.2" width="3.7" height="65.8" fill="#ee4422"/>
<rect x="93.90" y="582.2" width="3.7" height="67.8" fill="#00a844"/>
<rect x="99.02" y="583.5" width="3.7" height="66.5" fill="#00a844"/>
<rect x="104.14" y="586.0" width="3.7" height="64.0" fill="#ee4422"/>
<rect x="109.26" y="640.0" width="3.7" height="10.0" fill="#00a844"/>
<rect x="114.38" y="609.0" width="3.7" height="41.0" fill="#ee4422"/>
<rect x="119.51" y="601.0" width="3.7" height="49.0" fill="#ee4422"/>
<rect x="124.63" y="604.9" width="3.7" height="45.1" fill="#ee4422"/>
<rect x="129.75" y="633.9" width="3.7" height="16.1" fill="#ee4422"/>
<rect x="134.87" y="603.8" width="3.7" height="46.2" fill="#00a844"/>
<rect x="139.99" y="583.3" width="3.7" height="66.7" fill="#00a844"/>
<rect x="145.11" y="586.3" width="3.7" height="63.7" fill="#ee4422"/>
<rect x="150.24" y="596.3" width="3.7" height="53.7" fill="#00a844"/>
<rect x="155.36" y="581.6" width="3.7" height="68.4" fill="#ee4422"/>
<rect x="160.48" y="582.3" width="3.7" height="67.7" fill="#00a844"/>
<rect x="165.60" y="584.0" width="3.7" height="66.0" fill="#00a844"/>
<rect x="170.72" y="587.0" width="3.7" height="63.0" fill="#00a844"/>
<rect x="175.84" y="586.0" width="3.7" height="64.0" fill="#ee4422"/>
<rect x="180.97" y="585.6" width="3.7" height="64.4" fill="#00a844"/>
<rect x="186.09" y="581.6" width="3.7" height="68.4" fill="#00a844"/>
<rect x="191.21" y="578.2" width="3.7" height="71.8" fill="#ee4422"/>
<rect x="196.33" y="607.5" width="3.7" height="42.5" fill="#00a844"/>
<rect x="201.45" y="587.6" width="3.7" height="62.4" fill="#00a844"/>
<rect x="206.57" y="591.5" width="3.7" height="58.5" fill="#ee4422"/>
<rect x="211.70" y="590.1" width="3.7" height="59.9" fill="#ee4422"/>
<rect x="216.82" y="599.0" width="3.7" height="51.0" fill="#00a844"/>
<rect x="221.94" y="605.2" width="3.7" height="44.8" fill="#00a844"/>
<rect x="227.06" y="596.3" width="3.7" height="53.7" fill="#ee4422"/>
<rect x="232.18" y="604.9" width="3.7" height="45.1" fill="#00a844"/>
<rect x="237.30" y="596.0" width="3.7" height="54.0" fill="#00a844"/>
<rect x="242.43" y="602.7" width="3.7" height="47.3" fill="#00a844"/>
<rect x="247.55" y="601.0" width="3.7" height="49.0" fill="#ee4422"/>
<rect x="252.67" y="603.1" width="3.7" height="46.9" fill="#00a844"/>
<rect x="257.79" y="594.5" width="3.7" height="55.5" fill="#ee4422"/>
<rect x="262.91" y="581.2" width="3.7" height="68.8" fill="#00a844"/>
<rect x="268.03" y="581.2" width="3.7" height="68.8" fill="#00a844"/>
<rect x="273.16" y="581.9" width="3.7" height="68.1" fill="#00a844"/>
<rect x="278.28" y="593.9" width="3.7" height="56.1" fill="#00a844"/>
<rect x="283.40" y="586.7" width="3.7" height="63.3" fill="#00a844"/>
<rect x="288.52" y="581.9" width="3.7" height="68.1" fill="#ee4422"/>
<rect x="293.64" y="586.3" width="3.7" height="63.7" fill="#ee4422"/>
<rect x="298.77" y="589.1" width="3.7" height="60.9" fill="#00a844"/>
<rect x="303.89" y="585.5" width="3.7" height="64.5" fill="#00a844"/>
<rect x="309.01" y="580.5" width="3.7" height="69.5" fill="#00a844"/>
<rect x="314.13" y="589.1" width="3.7" height="60.9" fill="#00a844"/>
<rect x="319.25" y="594.6" width="3.7" height="55.4" fill="#ee4422"/>
<rect x="324.37" y="643.2" width="3.7" height="6.8" fill="#ee4422"/>
<rect x="329.50" y="639.4" width="3.7" height="10.6" fill="#00a844"/>
<rect x="334.62" y="632.9" width="3.7" height="17.1" fill="#00a844"/>
<rect x="339.74" y="616.8" width="3.7" height="33.2" fill="#00a844"/>
<rect x="344.86" y="625.3" width="3.7" height="24.7" fill="#ee4422"/>
<rect x="349.98" y="624.1" width="3.7" height="25.9" fill="#00a844"/>
<rect x="355.10" y="622.9" width="3.7" height="27.1" fill="#00a844"/>
<rect x="360.23" y="616.6" width="3.7" height="33.4" fill="#00a844"/>
<rect x="365.35" y="616.7" width="3.7" height="33.3" fill="#00a844"/>
<rect x="370.47" y="619.9" width="3.7" height="30.1" fill="#00a844"/>
<rect x="375.59" y="608.0" width="3.7" height="42.0" fill="#00a844"/>
<rect x="380.71" y="607.1" width="3.7" height="42.9" fill="#ee4422"/>
<rect x="385.83" y="610.8" width="3.7" height="39.2" fill="#00a844"/>
<rect x="390.96" y="614.6" width="3.7" height="35.4" fill="#ee4422"/>
<rect x="396.08" y="608.3" width="3.7" height="41.7" fill="#00a844"/>
<rect x="401.20" y="621.2" width="3.7" height="28.8" fill="#00a844"/>
<rect x="406.32" y="607.1" width="3.7" height="42.9" fill="#ee4422"/>
<rect x="411.44" y="609.1" width="3.7" height="40.9" fill="#00a844"/>
<rect x="416.56" y="599.3" width="3.7" height="50.7" fill="#ee4422"/>
<rect x="421.69" y="598.8" width="3.7" height="51.2" fill="#ee4422"/>
<rect x="426.81" y="620.7" width="3.7" height="29.3" fill="#00a844"/>
<rect x="431.93" y="597.5" width="3.7" height="52.5" fill="#ee4422"/>
<rect x="437.05" y="603.0" width="3.7" height="47.0" fill="#ee4422"/>
<rect x="442.17" y="601.0" width="3.7" height="49.0" fill="#ee4422"/>
<rect x="447.29" y="595.2" width="3.7" height="54.8" fill="#00a844"/>
<rect x="452.42" y="566.5" width="3.7" height="83.5" fill="#00a844"/>
<rect x="457.54" y="549.6" width="3.7" height="100.4" fill="#00a844"/>
<rect x="462.66" y="551.9" width="3.7" height="98.1" fill="#00a844"/>
<rect x="467.78" y="554.1" width="3.7" height="95.9" fill="#00a844"/>
<rect x="472.90" y="599.3" width="3.7" height="50.7" fill="#00a844"/>
<rect x="478.02" y="579.0" width="3.7" height="71.0" fill="#ee4422"/>
<rect x="483.15" y="557.1" width="3.7" height="92.9" fill="#ee4422"/>
<rect x="488.27" y="549.6" width="3.7" height="100.4" fill="#ee4422"/>
<rect x="493.39" y="557.9" width="3.7" height="92.1" fill="#ee4422"/>
<rect x="498.51" y="648.1" width="3.7" height="1.9" fill="#00a844"/>
<rect x="503.63" y="571.8" width="3.7" height="78.2" fill="#00a844"/>
<rect x="508.75" y="597.2" width="3.7" height="52.8" fill="#ee4422"/>
<rect x="513.88" y="574.1" width="3.7" height="75.9" fill="#00a844"/>
<rect x="519.00" y="549.9" width="3.7" height="100.1" fill="#ee4422"/>
<rect x="524.12" y="548.0" width="3.7" height="102.0" fill="#ee4422"/>
<rect x="529.24" y="560.2" width="3.7" height="89.8" fill="#00a844"/>
<rect x="534.36" y="631.2" width="3.7" height="18.8" fill="#00a844"/>
<rect x="539.49" y="560.2" width="3.7" height="89.8" fill="#00a844"/>
<rect x="544.61" y="559.9" width="3.7" height="90.1" fill="#00a844"/>
<rect x="549.73" y="588.1" width="3.7" height="61.9" fill="#00a844"/>
<rect x="554.85" y="587.2" width="3.7" height="62.8" fill="#00a844"/>
<rect x="559.97" y="572.0" width="3.7" height="78.0" fill="#ee4422"/>
<rect x="565.09" y="574.8" width="3.7" height="75.2" fill="#ee4422"/>
<rect x="570.22" y="569.0" width="3.7" height="81.0" fill="#00a844"/>
<rect x="575.34" y="648.6" width="3.7" height="1.4" fill="#00a844"/>
<rect x="580.46" y="578.0" width="3.7" height="72.0" fill="#00a844"/>
<rect x="585.58" y="566.5" width="3.7" height="83.5" fill="#00a844"/>
<rect x="590.70" y="561.2" width="3.7" height="88.8" fill="#00a844"/>
<rect x="595.82" y="610.0" width="3.7" height="40.0" fill="#00a844"/>
<rect x="600.95" y="614.9" width="3.7" height="35.1" fill="#ee4422"/>
<rect x="606.07" y="588.4" width="3.7" height="61.6" fill="#00a844"/>
<rect x="611.19" y="570.7" width="3.7" height="79.3" fill="#00a844"/>
<rect x="616.31" y="573.2" width="3.7" height="76.8" fill="#00a844"/>
<rect x="621.43" y="581.1" width="3.7" height="68.9" fill="#ee4422"/>
<rect x="626.55" y="579.0" width="3.7" height="71.0" fill="#00a844"/>
<rect x="631.68" y="572.3" width="3.7" height="77.7" fill="#ee4422"/>
<rect x="636.80" y="561.9" width="3.7" height="88.1" fill="#00a844"/>
<rect x="641.92" y="560.2" width="3.7" height="89.8" fill="#ee4422"/>
<rect x="647.04" y="561.2" width="3.7" height="88.8" fill="#ee4422"/>
<rect x="652.16" y="567.8" width="3.7" height="82.2" fill="#ee4422"/>
<rect x="657.28" y="641.1" width="3.7" height="8.9" fill="#ee4422"/>
<rect x="662.41" y="569.8" width="3.7" height="80.2" fill="#ee4422"/>
<rect x="667.53" y="562.0" width="3.7" height="88.0" fill="#ee4422"/>
<rect x="672.65" y="568.5" width="3.7" height="81.5" fill="#00a844"/>
<rect x="677.77" y="576.0" width="3.7" height="74.0" fill="#ee4422"/>
<rect x="682.89" y="583.6" width="3.7" height="66.4" fill="#00a844"/>
<rect x="688.01" y="570.2" width="3.7" height="79.8" fill="#ee4422"/>
<rect x="693.14" y="576.0" width="3.7" height="74.0" fill="#ee4422"/>
<rect x="698.26" y="582.8" width="3.7" height="67.2" fill="#00a844"/>
<rect x="703.38" y="569.0" width="3.7" height="81.0" fill="#ee4422"/>
<rect x="708.50" y="571.8" width="3.7" height="78.2" fill="#ee4422"/>
<rect x="713.62" y="565.4" width="3.7" height="84.6" fill="#00a844"/>
<rect x="718.74" y="569.3" width="3.7" height="80.7" fill="#00a844"/>
<rect x="723.87" y="628.3" width="3.7" height="21.7" fill="#00a844"/>
<rect x="728.99" y="581.1" width="3.7" height="68.9" fill="#00a844"/>
<rect x="734.11" y="584.4" width="3.7" height="65.6" fill="#00a844"/>
<rect x="739.23" y="582.3" width="3.7" height="67.7" fill="#00a844"/>
<rect x="744.35" y="578.5" width="3.7" height="71.5" fill="#ee4422"/>
<rect x="749.47" y="572.3" width="3.7" height="77.7" fill="#00a844"/>
<rect x="754.60" y="579.0" width="3.7" height="71.0" fill="#ee4422"/>
<rect x="759.72" y="576.1" width="3.7" height="73.9" fill="#ee4422"/>
<rect x="764.84" y="567.3" width="3.7" height="82.7" fill="#ee4422"/>
<rect x="769.96" y="576.5" width="3.7" height="73.5" fill="#00a844"/>
<rect x="775.08" y="581.9" width="3.7" height="68.1" fill="#00a844"/>
<rect x="780.20" y="576.1" width="3.7" height="73.9" fill="#00a844"/>
<rect x="785.33" y="583.1" width="3.7" height="66.9" fill="#ee4422"/>
<rect x="790.45" y="575.6" width="3.7" height="74.4" fill="#00a844"/>
<rect x="795.57" y="575.6" width="3.7" height="74.4" fill="#ee4422"/>
<rect x="800.69" y="575.3" width="3.7" height="74.7" fill="#00a844"/>
<rect x="805.81" y="573.2" width="3.7" height="76.8" fill="#ee4422"/>
<rect x="810.94" y="578.1" width="3.7" height="71.9" fill="#00a844"/>
<rect x="816.06" y="573.6" width="3.7" height="76.4" fill="#00a844"/>
<rect x="821.18" y="578.1" width="3.7" height="71.9" fill="#ee4422"/>
<rect x="826.30" y="581.1" width="3.7" height="68.9" fill="#00a844"/>
<rect x="831.42" y="577.6" width="3.7" height="72.4" fill="#ee4422"/>
<rect x="836.54" y="599.2" width="3.7" height="50.8" fill="#00a844"/>
<rect x="841.67" y="575.3" width="3.7" height="74.7" fill="#ee4422"/>
<rect x="846.79" y="579.8" width="3.7" height="70.2" fill="#00a844"/>
<rect x="851.91" y="569.5" width="3.7" height="80.5" fill="#ee4422"/>
<rect x="857.03" y="561.2" width="3.7" height="88.8" fill="#00a844"/>
<rect x="862.15" y="563.2" width="3.7" height="86.8" fill="#ee4422"/>
<rect x="867.27" y="564.5" width="3.7" height="85.5" fill="#ee4422"/>
<rect x="872.40" y="563.5" width="3.7" height="86.5" fill="#ee4422"/>
<rect x="877.52" y="569.0" width="3.7" height="81.0" fill="#00a844"/>
<rect x="882.64" y="566.2" width="3.7" height="83.8" fill="#00a844"/>
<rect x="887.76" y="571.5" width="3.7" height="78.5" fill="#ee4422"/>
<rect x="892.88" y="577.3" width="3.7" height="72.7" fill="#00a844"/>
<rect x="898.00" y="563.5" width="3.7" height="86.5" fill="#00a844"/>
<rect x="903.13" y="566.2" width="3.7" height="83.8" fill="#ee4422"/>
<rect x="908.25" y="556.6" width="3.7" height="93.4" fill="#00a844"/>
<rect x="913.37" y="567.3" width="3.7" height="82.7" fill="#00a844"/>
<rect x="918.49" y="562.4" width="3.7" height="87.6" fill="#ee4422"/>
<rect x="923.61" y="568.2" width="3.7" height="81.8" fill="#00a844"/>
<rect x="928.73" y="590.0" width="3.7" height="60.0" fill="#00a844"/>
<rect x="933.86" y="556.9" width="3.7" height="93.1" fill="#00a844"/>
<rect x="938.98" y="566.2" width="3.7" height="83.8" fill="#00a844"/>
<rect x="944.10" y="568.7" width="3.7" height="81.3" fill="#ee4422"/>
<rect x="949.22" y="564.8" width="3.7" height="85.2" fill="#00a844"/>
<rect x="954.34" y="563.7" width="3.7" height="86.3" fill="#ee4422"/>
<rect x="959.46" y="571.5" width="3.7" height="78.5" fill="#00a844"/>
<rect x="964.59" y="564.5" width="3.7" height="85.5" fill="#00a844"/>
<rect x="969.71" y="578.6" width="3.7" height="71.4" fill="#ee4422"/>
<rect x="974.83" y="562.0" width="3.7" height="88.0" fill="#00a844"/>
<rect x="979.95" y="580.2" width="3.7" height="69.8" fill="#00a844"/>
<rect x="985.07" y="580.9" width="3.7" height="69.1" fill="#00a844"/>
<rect x="990.19" y="595.0" width="3.7" height="55.0" fill="#ee4422"/>
<line x1="13.80" y1="437.0" x2="13.80" y2="446.0" stroke="#111" stroke-width="1.1"/>
<rect x="12.20" y="438.5" width="3.2" height="6.3" fill="#0fb04a" stroke="#111" stroke-width="1.15"/>
<rect x="17.32" y="438.5" width="3.2" height="12.5" fill="#ef4824" stroke="#111" stroke-width="1.15"/>
<line x1="24.04" y1="443.4" x2="24.04" y2="453.6" stroke="#111" stroke-width="1.1"/>
<rect x="22.44" y="443.4" width="3.2" height="7.9" fill="#0fb04a" stroke="#111" stroke-width="1.15"/>
<line x1="29.17" y1="441.2" x2="29.17" y2="448.2" stroke="#111" stroke-width="1.1"/>
<rect x="27.57" y="443.6" width="3.2" height="3.0" fill="#ef4824" stroke="#111" stroke-width="1.15"/>
<line x1="34.29" y1="447.2" x2="34.29" y2="453.6" stroke="#111" stroke-width="1.1"/>
<rect x="32.69" y="447.2" width="3.2" height="3.2" fill="#ef4824" stroke="#111" stroke-width="1.15"/>
<line x1="39.41" y1="450.0" x2="39.41" y2="454.2" stroke="#111" stroke-width="1.1"/>
<rect x="37.81" y="450.0" width="3.2" height="1.7" fill="#0fb04a" stroke="#111" stroke-width="1.15"/>
<line x1="44.53" y1="447.2" x2="44.53" y2="455.8" stroke="#111" stroke-width="1.1"/>
<rect x="42.93" y="450.6" width="3.2" height="3.8" fill="#ef4824" stroke="#111" stroke-width="1.15"/>
<rect x="48.05" y="454.4" width="3.2" height="9.7" fill="#ef4824" stroke="#111" stroke-width="1.15"/>
<line x1="54.77" y1="460.1" x2="54.77" y2="466.6" stroke="#111" stroke-width="1.1"/>
<rect x="53.17" y="463.0" width="3.2" height="1.7" fill="#0fb04a" stroke="#111" stroke-width="1.15"/>
<rect x="58.30" y="462.8" width="3.2" height="1.7" fill="#0fb04a" stroke="#111" stroke-width="1.15"/>
<line x1="65.02" y1="462.8" x2="65.02" y2="469.3" stroke="#111" stroke-width="1.1"/>
<rect x="63.42" y="462.8" width="3.2" height="4.4" fill="#ef4824" stroke="#111" stroke-width="1.15"/>
<rect x="68.54" y="467.7" width="3.2" height="6.8" fill="#ef4824" stroke="#111" stroke-width="1.15"/>
<line x1="75.26" y1="471.0" x2="75.26" y2="476.4" stroke="#111" stroke-width="1.1"/>
<rect x="73.66" y="471.0" width="3.2" height="3.5" fill="#0fb04a" stroke="#111" stroke-width="1.15"/>
<rect x="78.78" y="471.0" width="3.2" height="9.7" fill="#ef4824" stroke="#111" stroke-width="1.15"/>
<line x1="85.50" y1="478.5" x2="85.50" y2="482.3" stroke="#111" stroke-width="1.1"/>
<rect x="83.90" y="478.5" width="3.2" height="1.7" fill="#0fb04a" stroke="#111" stroke-width="1.15"/>
<line x1="90.63" y1="478.5" x2="90.63" y2="482.8" stroke="#111" stroke-width="1.1"/>
<rect x="89.03" y="478.5" width="3.2" height="1.7" fill="#ef4824" stroke="#111" stroke-width="1.15"/>
<line x1="95.75" y1="478.5" x2="95.75" y2="481.5" stroke="#111" stroke-width="1.1"/>
<rect x="94.15" y="478.5" width="3.2" height="1.7" fill="#0fb04a" stroke="#111" stroke-width="1.15"/>
<rect x="99.27" y="472.6" width="3.2" height="6.4" fill="#0fb04a" stroke="#111" stroke-width="1.15"/>
<line x1="105.99" y1="472.0" x2="105.99" y2="480.1" stroke="#111" stroke-width="1.1"/>
<rect x="104.39" y="473.1" width="3.2" height="2.7" fill="#ef4824" stroke="#111" stroke-width="1.15"/>
<rect x="109.51" y="475.0" width="3.2" height="1.7" fill="#0fb04a" stroke="#111" stroke-width="1.15"/>
<rect x="114.63" y="475.3" width="3.2" height="6.7" fill="#ef4824" stroke="#111" stroke-width="1.15"/>
<rect x="119.76" y="482.3" width="3.2" height="1.7" fill="#ef4824" stroke="#111" stroke-width="1.15"/>
<rect x="124.88" y="484.2" width="3.2" height="5.7" fill="#ef4824" stroke="#111" stroke-width="1.15"/>
<rect x="130.00" y="489.3" width="3.2" height="1.7" fill="#ef4824" stroke="#111" stroke-width="1.15"/>
<line x1="136.72" y1="485.2" x2="136.72" y2="491.0" stroke="#111" stroke-width="1.1"/>
<rect x="135.12" y="488.0" width="3.2" height="1.7" fill="#0fb04a" stroke="#111" stroke-width="1.15"/>
<rect x="140.24" y="480.0" width="3.2" height="7.8" fill="#0fb04a" stroke="#111" stroke-width="1.15"/>
<line x1="146.96" y1="479.4" x2="146.96" y2="482.6" stroke="#111" stroke-width="1.1"/>
<rect x="145.36" y="480.2" width="3.2" height="1.7" fill="#ef4824" stroke="#111" stroke-width="1.15"/>
<line x1="152.09" y1="475.5" x2="152.09" y2="480.5" stroke="#111" stroke-width="1.1"/>
<rect x="150.49" y="479.5" width="3.2" height="1.7" fill="#0fb04a" stroke="#111" stroke-width="1.15"/>
<line x1="157.21" y1="478.8" x2="157.21" y2="484.6" stroke="#111" stroke-width="1.1"/>
<rect x="155.61" y="479.5" width="3.2" height="1.7" fill="#ef4824" stroke="#111" stroke-width="1.15"/>
<rect x="160.73" y="474.2" width="3.2" height="5.8" fill="#0fb04a" stroke="#111" stroke-width="1.15"/>
<line x1="167.45" y1="473.1" x2="167.45" y2="479.4" stroke="#111" stroke-width="1.1"/>
<rect x="165.85" y="473.1" width="3.2" height="1.7" fill="#0fb04a" stroke="#111" stroke-width="1.15"/>
<line x1="172.57" y1="461.9" x2="172.57" y2="473.3" stroke="#111" stroke-width="1.1"/>
<rect x="170.97" y="463.2" width="3.2" height="10.1" fill="#0fb04a" stroke="#111" stroke-width="1.15"/>
<line x1="177.69" y1="460.0" x2="177.69" y2="467.0" stroke="#111" stroke-width="1.1"/>
<rect x="176.09" y="463.2" width="3.2" height="2.3" fill="#ef4824" stroke="#111" stroke-width="1.15"/>
<line x1="182.82" y1="455.4" x2="182.82" y2="465.5" stroke="#111" stroke-width="1.1"/>
<rect x="181.22" y="457.3" width="3.2" height="8.2" fill="#0fb04a" stroke="#111" stroke-width="1.15"/>
<line x1="187.94" y1="452.5" x2="187.94" y2="458.3" stroke="#111" stroke-width="1.1"/>
<rect x="186.34" y="454.9" width="3.2" height="1.7" fill="#0fb04a" stroke="#111" stroke-width="1.15"/>
<rect x="191.46" y="455.1" width="3.2" height="4.2" fill="#ef4824" stroke="#111" stroke-width="1.15"/>
<rect x="196.58" y="454.1" width="3.2" height="5.2" fill="#0fb04a" stroke="#111" stroke-width="1.15"/>
<rect x="201.70" y="449.2" width="3.2" height="4.6" fill="#0fb04a" stroke="#111" stroke-width="1.15"/>
<rect x="206.82" y="449.2" width="3.2" height="6.5" fill="#ef4824" stroke="#111" stroke-width="1.15"/>
<line x1="213.55" y1="455.4" x2="213.55" y2="460.0" stroke="#111" stroke-width="1.1"/>
<rect x="211.95" y="455.4" width="3.2" height="1.9" fill="#ef4824" stroke="#111" stroke-width="1.15"/>
<rect x="217.07" y="455.4" width="3.2" height="2.3" fill="#0fb04a" stroke="#111" stroke-width="1.15"/>
<line x1="223.79" y1="445.7" x2="223.79" y2="455.7" stroke="#111" stroke-width="1.1"/>
<rect x="222.19" y="450.9" width="3.2" height="4.8" fill="#0fb04a" stroke="#111" stroke-width="1.15"/>
<rect x="227.31" y="450.3" width="3.2" height="2.6" fill="#ef4824" stroke="#111" stroke-width="1.15"/>
<line x1="234.03" y1="445.7" x2="234.03" y2="454.3" stroke="#111" stroke-width="1.1"/>
<rect x="232.43" y="445.7" width="3.2" height="7.6" fill="#0fb04a" stroke="#111" stroke-width="1.15"/>
<line x1="239.15" y1="437.0" x2="239.15" y2="445.3" stroke="#111" stroke-width="1.1"/>
<rect x="237.55" y="442.8" width="3.2" height="2.5" fill="#0fb04a" stroke="#111" stroke-width="1.15"/>
<rect x="242.68" y="434.2" width="3.2" height="7.9" fill="#0fb04a" stroke="#111" stroke-width="1.15"/>
<line x1="249.40" y1="434.6" x2="249.40" y2="444.3" stroke="#111" stroke-width="1.1"/>
<rect x="247.80" y="434.6" width="3.2" height="6.8" fill="#ef4824" stroke="#111" stroke-width="1.15"/>
<line x1="254.52" y1="439.2" x2="254.52" y2="445.7" stroke="#111" stroke-width="1.1"/>
<rect x="252.92" y="440.0" width="3.2" height="1.7" fill="#0fb04a" stroke="#111" stroke-width="1.15"/>
<rect x="258.04" y="440.6" width="3.2" height="3.6" fill="#ef4824" stroke="#111" stroke-width="1.15"/>
<line x1="264.76" y1="434.6" x2="264.76" y2="448.6" stroke="#111" stroke-width="1.1"/>
<rect x="263.16" y="434.6" width="3.2" height="9.6" fill="#0fb04a" stroke="#111" stroke-width="1.15"/>
<rect x="268.28" y="426.7" width="3.2" height="7.5" fill="#0fb04a" stroke="#111" stroke-width="1.15"/>
<line x1="275.01" y1="425.0" x2="275.01" y2="428.4" stroke="#111" stroke-width="1.1"/>
<rect x="273.41" y="425.0" width="3.2" height="1.7" fill="#0fb04a" stroke="#111" stroke-width="1.15"/>
<line x1="280.13" y1="423.3" x2="280.13" y2="430.6" stroke="#111" stroke-width="1.1"/>
<rect x="278.53" y="424.3" width="3.2" height="1.7" fill="#0fb04a" stroke="#111" stroke-width="1.15"/>
<rect x="283.65" y="419.5" width="3.2" height="5.0" fill="#0fb04a" stroke="#111" stroke-width="1.15"/>
<line x1="290.37" y1="414.4" x2="290.37" y2="427.7" stroke="#111" stroke-width="1.1"/>
<rect x="288.77" y="419.2" width="3.2" height="1.7" fill="#ef4824" stroke="#111" stroke-width="1.15"/>
<rect x="293.89" y="420.5" width="3.2" height="11.2" fill="#ef4824" stroke="#111" stroke-width="1.15"/>
<rect x="299.02" y="425.5" width="3.2" height="5.8" fill="#0fb04a" stroke="#111" stroke-width="1.15"/>
<rect x="304.14" y="419.0" width="3.2" height="6.1" fill="#0fb04a" stroke="#111" stroke-width="1.15"/>
<rect x="309.26" y="416.9" width="3.2" height="2.1" fill="#0fb04a" stroke="#111" stroke-width="1.15"/>
<rect x="314.38" y="411.5" width="3.2" height="5.8" fill="#0fb04a" stroke="#111" stroke-width="1.15"/>
<line x1="321.10" y1="409.6" x2="321.10" y2="414.0" stroke="#111" stroke-width="1.1"/>
<rect x="319.50" y="411.3" width="3.2" height="1.7" fill="#ef4824" stroke="#111" stroke-width="1.15"/>
<rect x="324.62" y="411.8" width="3.2" height="1.7" fill="#ef4824" stroke="#111" stroke-width="1.15"/>
<rect x="329.75" y="411.8" width="3.2" height="1.7" fill="#0fb04a" stroke="#111" stroke-width="1.15"/>
<rect x="334.87" y="399.7" width="3.2" height="12.6" fill="#0fb04a" stroke="#111" stroke-width="1.15"/>
<line x1="341.59" y1="389.8" x2="341.59" y2="398.8" stroke="#111" stroke-width="1.1"/>
<rect x="339.99" y="392.2" width="3.2" height="6.6" fill="#0fb04a" stroke="#111" stroke-width="1.15"/>
<line x1="346.71" y1="386.6" x2="346.71" y2="395.0" stroke="#111" stroke-width="1.1"/>
<rect x="345.11" y="392.2" width="3.2" height="1.8" fill="#ef4824" stroke="#111" stroke-width="1.15"/>
<line x1="351.83" y1="388.4" x2="351.83" y2="395.1" stroke="#111" stroke-width="1.1"/>
<rect x="350.23" y="394.1" width="3.2" height="1.7" fill="#0fb04a" stroke="#111" stroke-width="1.15"/>
<line x1="356.95" y1="386.0" x2="356.95" y2="397.3" stroke="#111" stroke-width="1.1"/>
<rect x="355.35" y="386.0" width="3.2" height="8.0" fill="#0fb04a" stroke="#111" stroke-width="1.15"/>
<rect x="360.48" y="371.6" width="3.2" height="15.0" fill="#0fb04a" stroke="#111" stroke-width="1.15"/>
<line x1="367.20" y1="355.3" x2="367.20" y2="371.0" stroke="#111" stroke-width="1.1"/>
<rect x="365.60" y="366.5" width="3.2" height="4.5" fill="#0fb04a" stroke="#111" stroke-width="1.15"/>
<line x1="372.32" y1="354.1" x2="372.32" y2="366.5" stroke="#111" stroke-width="1.1"/>
<rect x="370.72" y="362.2" width="3.2" height="4.3" fill="#0fb04a" stroke="#111" stroke-width="1.15"/>
<line x1="377.44" y1="329.0" x2="377.44" y2="362.2" stroke="#111" stroke-width="1.1"/>
<rect x="375.84" y="344.0" width="3.2" height="18.2" fill="#0fb04a" stroke="#111" stroke-width="1.15"/>
<rect x="380.96" y="344.0" width="3.2" height="15.4" fill="#ef4824" stroke="#111" stroke-width="1.15"/>
<rect x="386.08" y="325.6" width="3.2" height="33.8" fill="#0fb04a" stroke="#111" stroke-width="1.15"/>
<line x1="392.81" y1="292.8" x2="392.81" y2="332.2" stroke="#111" stroke-width="1.1"/>
<rect x="391.21" y="326.0" width="3.2" height="3.0" fill="#ef4824" stroke="#111" stroke-width="1.15"/>
<line x1="397.93" y1="313.4" x2="397.93" y2="353.8" stroke="#111" stroke-width="1.1"/>
<rect x="396.33" y="316.3" width="3.2" height="12.9" fill="#0fb04a" stroke="#111" stroke-width="1.15"/>
<line x1="403.05" y1="275.0" x2="403.05" y2="313.4" stroke="#111" stroke-width="1.1"/>
<rect x="401.45" y="283.8" width="3.2" height="29.6" fill="#0fb04a" stroke="#111" stroke-width="1.15"/>
<line x1="408.17" y1="270.3" x2="408.17" y2="289.0" stroke="#111" stroke-width="1.1"/>
<rect x="406.57" y="283.8" width="3.2" height="2.5" fill="#ef4824" stroke="#111" stroke-width="1.15"/>
<line x1="413.29" y1="235.3" x2="413.29" y2="285.7" stroke="#111" stroke-width="1.1"/>
<rect x="411.69" y="259.6" width="3.2" height="26.1" fill="#0fb04a" stroke="#111" stroke-width="1.15"/>
<line x1="418.41" y1="242.2" x2="418.41" y2="268.4" stroke="#111" stroke-width="1.1"/>
<rect x="416.81" y="259.6" width="3.2" height="5.7" fill="#ef4824" stroke="#111" stroke-width="1.15"/>
<line x1="423.54" y1="265.6" x2="423.54" y2="286.6" stroke="#111" stroke-width="1.1"/>
<rect x="421.94" y="265.6" width="3.2" height="7.0" fill="#ef4824" stroke="#111" stroke-width="1.15"/>
<line x1="428.66" y1="256.3" x2="428.66" y2="280.3" stroke="#111" stroke-width="1.1"/>
<rect x="427.06" y="256.3" width="3.2" height="16.5" fill="#0fb04a" stroke="#111" stroke-width="1.15"/>
<line x1="433.78" y1="254.4" x2="433.78" y2="272.2" stroke="#111" stroke-width="1.1"/>
<rect x="432.18" y="256.3" width="3.2" height="8.4" fill="#ef4824" stroke="#111" stroke-width="1.15"/>
<line x1="438.90" y1="264.7" x2="438.90" y2="288.1" stroke="#111" stroke-width="1.1"/>
<rect x="437.30" y="264.7" width="3.2" height="11.8" fill="#ef4824" stroke="#111" stroke-width="1.15"/>
<line x1="444.02" y1="273.1" x2="444.02" y2="288.5" stroke="#111" stroke-width="1.1"/>
<rect x="442.42" y="276.0" width="3.2" height="2.8" fill="#ef4824" stroke="#111" stroke-width="1.15"/>
<line x1="449.14" y1="259.6" x2="449.14" y2="279.1" stroke="#111" stroke-width="1.1"/>
<rect x="447.54" y="263.4" width="3.2" height="15.7" fill="#0fb04a" stroke="#111" stroke-width="1.15"/>
<rect x="452.67" y="243.5" width="3.2" height="19.9" fill="#0fb04a" stroke="#111" stroke-width="1.15"/>
<line x1="459.39" y1="241.3" x2="459.39" y2="247.8" stroke="#111" stroke-width="1.1"/>
<rect x="457.79" y="241.3" width="3.2" height="2.2" fill="#0fb04a" stroke="#111" stroke-width="1.15"/>
<line x1="464.51" y1="227.8" x2="464.51" y2="241.6" stroke="#111" stroke-width="1.1"/>
<rect x="462.91" y="231.5" width="3.2" height="10.1" fill="#0fb04a" stroke="#111" stroke-width="1.15"/>
<line x1="469.63" y1="225.9" x2="469.63" y2="237.5" stroke="#111" stroke-width="1.1"/>
<rect x="468.03" y="231.0" width="3.2" height="1.7" fill="#0fb04a" stroke="#111" stroke-width="1.15"/>
<rect x="473.15" y="211.6" width="3.2" height="19.9" fill="#0fb04a" stroke="#111" stroke-width="1.15"/>
<line x1="479.87" y1="211.8" x2="479.87" y2="236.3" stroke="#111" stroke-width="1.1"/>
<rect x="478.27" y="211.8" width="3.2" height="13.1" fill="#ef4824" stroke="#111" stroke-width="1.15"/>
<line x1="485.00" y1="225.3" x2="485.00" y2="243.4" stroke="#111" stroke-width="1.1"/>
<rect x="483.40" y="225.3" width="3.2" height="12.0" fill="#ef4824" stroke="#111" stroke-width="1.15"/>
<line x1="490.12" y1="234.0" x2="490.12" y2="259.4" stroke="#111" stroke-width="1.1"/>
<rect x="488.52" y="237.3" width="3.2" height="22.1" fill="#ef4824" stroke="#111" stroke-width="1.15"/>
<line x1="495.24" y1="253.1" x2="495.24" y2="272.8" stroke="#111" stroke-width="1.1"/>
<rect x="493.64" y="259.4" width="3.2" height="2.5" fill="#ef4824" stroke="#111" stroke-width="1.15"/>
<rect x="498.76" y="261.7" width="3.2" height="1.7" fill="#0fb04a" stroke="#111" stroke-width="1.15"/>
<line x1="505.48" y1="241.7" x2="505.48" y2="262.2" stroke="#111" stroke-width="1.1"/>
<rect x="503.88" y="242.8" width="3.2" height="19.4" fill="#0fb04a" stroke="#111" stroke-width="1.15"/>
<line x1="510.60" y1="241.2" x2="510.60" y2="251.6" stroke="#111" stroke-width="1.1"/>
<rect x="509.00" y="243.4" width="3.2" height="6.5" fill="#ef4824" stroke="#111" stroke-width="1.15"/>
<line x1="515.73" y1="229.2" x2="515.73" y2="249.9" stroke="#111" stroke-width="1.1"/>
<rect x="514.13" y="234.3" width="3.2" height="15.6" fill="#0fb04a" stroke="#111" stroke-width="1.15"/>
<line x1="520.85" y1="229.2" x2="520.85" y2="240.4" stroke="#111" stroke-width="1.1"/>
<rect x="519.25" y="233.8" width="3.2" height="1.7" fill="#ef4824" stroke="#111" stroke-width="1.15"/>
<line x1="525.97" y1="227.9" x2="525.97" y2="238.9" stroke="#111" stroke-width="1.1"/>
<rect x="524.37" y="234.2" width="3.2" height="1.7" fill="#ef4824" stroke="#111" stroke-width="1.15"/>
<rect x="529.49" y="218.8" width="3.2" height="16.2" fill="#0fb04a" stroke="#111" stroke-width="1.15"/>
<rect x="534.61" y="218.3" width="3.2" height="1.7" fill="#0fb04a" stroke="#111" stroke-width="1.15"/>
<rect x="539.74" y="189.3" width="3.2" height="29.0" fill="#0fb04a" stroke="#111" stroke-width="1.15"/>
<line x1="546.46" y1="169.5" x2="546.46" y2="199.3" stroke="#111" stroke-width="1.1"/>
<rect x="544.86" y="172.5" width="3.2" height="16.1" fill="#0fb04a" stroke="#111" stroke-width="1.15"/>
<line x1="551.58" y1="129.1" x2="551.58" y2="172.1" stroke="#111" stroke-width="1.1"/>
<rect x="549.98" y="162.4" width="3.2" height="9.7" fill="#0fb04a" stroke="#111" stroke-width="1.15"/>
<line x1="556.70" y1="134.2" x2="556.70" y2="165.4" stroke="#111" stroke-width="1.1"/>
<rect x="555.10" y="147.3" width="3.2" height="14.1" fill="#0fb04a" stroke="#111" stroke-width="1.15"/>
<line x1="561.82" y1="147.3" x2="561.82" y2="182.6" stroke="#111" stroke-width="1.1"/>
<rect x="560.22" y="147.3" width="3.2" height="31.3" fill="#ef4824" stroke="#111" stroke-width="1.15"/>
<rect x="565.34" y="178.4" width="3.2" height="35.5" fill="#ef4824" stroke="#111" stroke-width="1.15"/>
<rect x="570.47" y="183.6" width="3.2" height="30.3" fill="#0fb04a" stroke="#111" stroke-width="1.15"/>
<rect x="575.59" y="182.4" width="3.2" height="1.7" fill="#0fb04a" stroke="#111" stroke-width="1.15"/>
<line x1="582.31" y1="159.1" x2="582.31" y2="182.5" stroke="#111" stroke-width="1.1"/>
<rect x="580.71" y="170.6" width="3.2" height="11.9" fill="#0fb04a" stroke="#111" stroke-width="1.15"/>
<line x1="587.43" y1="158.7" x2="587.43" y2="181.4" stroke="#111" stroke-width="1.1"/>
<rect x="585.83" y="163.5" width="3.2" height="7.1" fill="#0fb04a" stroke="#111" stroke-width="1.15"/>
<rect x="590.95" y="134.9" width="3.2" height="28.6" fill="#0fb04a" stroke="#111" stroke-width="1.15"/>
<line x1="597.67" y1="103.5" x2="597.67" y2="134.5" stroke="#111" stroke-width="1.1"/>
<rect x="596.07" y="109.6" width="3.2" height="24.9" fill="#0fb04a" stroke="#111" stroke-width="1.15"/>
<rect x="601.20" y="109.6" width="3.2" height="22.7" fill="#ef4824" stroke="#111" stroke-width="1.15"/>
<line x1="607.92" y1="109.8" x2="607.92" y2="132.3" stroke="#111" stroke-width="1.1"/>
<rect x="606.32" y="112.8" width="3.2" height="19.5" fill="#0fb04a" stroke="#111" stroke-width="1.15"/>
<line x1="613.04" y1="98.8" x2="613.04" y2="127.3" stroke="#111" stroke-width="1.1"/>
<rect x="611.44" y="98.8" width="3.2" height="14.0" fill="#0fb04a" stroke="#111" stroke-width="1.15"/>
<line x1="618.16" y1="88.4" x2="618.16" y2="111.5" stroke="#111" stroke-width="1.1"/>
<rect x="616.56" y="98.3" width="3.2" height="1.7" fill="#0fb04a" stroke="#111" stroke-width="1.15"/>
<line x1="623.28" y1="83.4" x2="623.28" y2="115.0" stroke="#111" stroke-width="1.1"/>
<rect x="621.68" y="98.1" width="3.2" height="16.9" fill="#ef4824" stroke="#111" stroke-width="1.15"/>
<line x1="628.40" y1="104.2" x2="628.40" y2="124.1" stroke="#111" stroke-width="1.1"/>
<rect x="626.80" y="106.3" width="3.2" height="8.1" fill="#0fb04a" stroke="#111" stroke-width="1.15"/>
<line x1="633.53" y1="106.3" x2="633.53" y2="137.5" stroke="#111" stroke-width="1.1"/>
<rect x="631.93" y="106.3" width="3.2" height="28.2" fill="#ef4824" stroke="#111" stroke-width="1.15"/>
<line x1="638.65" y1="126.7" x2="638.65" y2="140.3" stroke="#111" stroke-width="1.1"/>
<rect x="637.05" y="126.7" width="3.2" height="7.8" fill="#0fb04a" stroke="#111" stroke-width="1.15"/>
<line x1="643.77" y1="126.7" x2="643.77" y2="143.3" stroke="#111" stroke-width="1.1"/>
<rect x="642.17" y="126.7" width="3.2" height="12.7" fill="#ef4824" stroke="#111" stroke-width="1.15"/>
<rect x="647.29" y="139.8" width="3.2" height="29.4" fill="#ef4824" stroke="#111" stroke-width="1.15"/>
<line x1="654.01" y1="157.1" x2="654.01" y2="173.2" stroke="#111" stroke-width="1.1"/>
<rect x="652.41" y="169.2" width="3.2" height="4.0" fill="#ef4824" stroke="#111" stroke-width="1.15"/>
<rect x="657.53" y="173.9" width="3.2" height="17.7" fill="#ef4824" stroke="#111" stroke-width="1.15"/>
<line x1="664.26" y1="191.9" x2="664.26" y2="213.5" stroke="#111" stroke-width="1.1"/>
<rect x="662.66" y="191.9" width="3.2" height="18.0" fill="#ef4824" stroke="#111" stroke-width="1.15"/>
<rect x="667.78" y="210.7" width="3.2" height="16.5" fill="#ef4824" stroke="#111" stroke-width="1.15"/>
<rect x="672.90" y="199.9" width="3.2" height="27.3" fill="#0fb04a" stroke="#111" stroke-width="1.15"/>
<line x1="679.62" y1="189.1" x2="679.62" y2="215.7" stroke="#111" stroke-width="1.1"/>
<rect x="678.02" y="199.9" width="3.2" height="12.2" fill="#ef4824" stroke="#111" stroke-width="1.15"/>
<line x1="684.74" y1="197.7" x2="684.74" y2="216.4" stroke="#111" stroke-width="1.1"/>
<rect x="683.14" y="208.5" width="3.2" height="5.8" fill="#0fb04a" stroke="#111" stroke-width="1.15"/>
<rect x="688.26" y="208.4" width="3.2" height="33.7" fill="#ef4824" stroke="#111" stroke-width="1.15"/>
<line x1="694.99" y1="242.1" x2="694.99" y2="279.5" stroke="#111" stroke-width="1.1"/>
<rect x="693.39" y="242.1" width="3.2" height="28.1" fill="#ef4824" stroke="#111" stroke-width="1.15"/>
<line x1="700.11" y1="256.1" x2="700.11" y2="274.5" stroke="#111" stroke-width="1.1"/>
<rect x="698.51" y="259.5" width="3.2" height="10.7" fill="#0fb04a" stroke="#111" stroke-width="1.15"/>
<line x1="705.23" y1="259.5" x2="705.23" y2="296.4" stroke="#111" stroke-width="1.1"/>
<rect x="703.63" y="259.5" width="3.2" height="32.6" fill="#ef4824" stroke="#111" stroke-width="1.15"/>
<rect x="708.75" y="292.1" width="3.2" height="29.2" fill="#ef4824" stroke="#111" stroke-width="1.15"/>
<line x1="715.47" y1="300.1" x2="715.47" y2="321.3" stroke="#111" stroke-width="1.1"/>
<rect x="713.87" y="305.7" width="3.2" height="15.6" fill="#0fb04a" stroke="#111" stroke-width="1.15"/>
<line x1="720.59" y1="290.8" x2="720.59" y2="313.2" stroke="#111" stroke-width="1.1"/>
<rect x="718.99" y="290.8" width="3.2" height="14.9" fill="#0fb04a" stroke="#111" stroke-width="1.15"/>
<rect x="724.12" y="289.7" width="3.2" height="1.7" fill="#0fb04a" stroke="#111" stroke-width="1.15"/>
<line x1="730.84" y1="265.5" x2="730.84" y2="289.5" stroke="#111" stroke-width="1.1"/>
<rect x="729.24" y="274.5" width="3.2" height="15.0" fill="#0fb04a" stroke="#111" stroke-width="1.15"/>
<line x1="735.96" y1="238.4" x2="735.96" y2="274.5" stroke="#111" stroke-width="1.1"/>
<rect x="734.36" y="252.0" width="3.2" height="22.5" fill="#0fb04a" stroke="#111" stroke-width="1.15"/>
<line x1="741.08" y1="234.1" x2="741.08" y2="271.1" stroke="#111" stroke-width="1.1"/>
<rect x="739.48" y="234.1" width="3.2" height="17.9" fill="#0fb04a" stroke="#111" stroke-width="1.15"/>
<line x1="746.20" y1="229.0" x2="746.20" y2="244.0" stroke="#111" stroke-width="1.1"/>
<rect x="744.60" y="234.1" width="3.2" height="3.3" fill="#ef4824" stroke="#111" stroke-width="1.15"/>
<line x1="751.32" y1="204.8" x2="751.32" y2="236.4" stroke="#111" stroke-width="1.1"/>
<rect x="749.72" y="206.3" width="3.2" height="30.1" fill="#0fb04a" stroke="#111" stroke-width="1.15"/>
<line x1="756.45" y1="206.3" x2="756.45" y2="222.5" stroke="#111" stroke-width="1.1"/>
<rect x="754.85" y="206.3" width="3.2" height="13.0" fill="#ef4824" stroke="#111" stroke-width="1.15"/>
<line x1="761.57" y1="219.3" x2="761.57" y2="241.3" stroke="#111" stroke-width="1.1"/>
<rect x="759.97" y="219.3" width="3.2" height="11.0" fill="#ef4824" stroke="#111" stroke-width="1.15"/>
<line x1="766.69" y1="230.3" x2="766.69" y2="254.9" stroke="#111" stroke-width="1.1"/>
<rect x="765.09" y="230.3" width="3.2" height="21.7" fill="#ef4824" stroke="#111" stroke-width="1.15"/>
<rect x="770.21" y="212.1" width="3.2" height="39.9" fill="#0fb04a" stroke="#111" stroke-width="1.15"/>
<line x1="776.93" y1="206.6" x2="776.93" y2="227.1" stroke="#111" stroke-width="1.1"/>
<rect x="775.33" y="208.6" width="3.2" height="3.5" fill="#0fb04a" stroke="#111" stroke-width="1.15"/>
<rect x="780.45" y="183.2" width="3.2" height="25.3" fill="#0fb04a" stroke="#111" stroke-width="1.15"/>
<line x1="787.18" y1="183.2" x2="787.18" y2="202.2" stroke="#111" stroke-width="1.1"/>
<rect x="785.58" y="183.2" width="3.2" height="16.9" fill="#ef4824" stroke="#111" stroke-width="1.15"/>
<line x1="792.30" y1="179.7" x2="792.30" y2="200.1" stroke="#111" stroke-width="1.1"/>
<rect x="790.70" y="186.6" width="3.2" height="13.5" fill="#0fb04a" stroke="#111" stroke-width="1.15"/>
<line x1="797.42" y1="186.9" x2="797.42" y2="220.6" stroke="#111" stroke-width="1.1"/>
<rect x="795.82" y="186.9" width="3.2" height="30.4" fill="#ef4824" stroke="#111" stroke-width="1.15"/>
<line x1="802.54" y1="207.6" x2="802.54" y2="227.7" stroke="#111" stroke-width="1.1"/>
<rect x="800.94" y="208.9" width="3.2" height="8.4" fill="#0fb04a" stroke="#111" stroke-width="1.15"/>
<line x1="807.66" y1="206.6" x2="807.66" y2="219.0" stroke="#111" stroke-width="1.1"/>
<rect x="806.06" y="208.9" width="3.2" height="10.1" fill="#ef4824" stroke="#111" stroke-width="1.15"/>
<line x1="812.79" y1="210.9" x2="812.79" y2="224.5" stroke="#111" stroke-width="1.1"/>
<rect x="811.19" y="210.9" width="3.2" height="8.1" fill="#0fb04a" stroke="#111" stroke-width="1.15"/>
<line x1="817.91" y1="202.4" x2="817.91" y2="221.9" stroke="#111" stroke-width="1.1"/>
<rect x="816.31" y="203.7" width="3.2" height="6.5" fill="#0fb04a" stroke="#111" stroke-width="1.15"/>
<line x1="823.03" y1="204.0" x2="823.03" y2="216.0" stroke="#111" stroke-width="1.1"/>
<rect x="821.43" y="204.0" width="3.2" height="9.4" fill="#ef4824" stroke="#111" stroke-width="1.15"/>
<line x1="828.15" y1="207.6" x2="828.15" y2="230.6" stroke="#111" stroke-width="1.1"/>
<rect x="826.55" y="212.6" width="3.2" height="1.7" fill="#0fb04a" stroke="#111" stroke-width="1.15"/>
<line x1="833.27" y1="204.0" x2="833.27" y2="217.6" stroke="#111" stroke-width="1.1"/>
<rect x="831.67" y="212.7" width="3.2" height="2.6" fill="#ef4824" stroke="#111" stroke-width="1.15"/>
<rect x="836.79" y="200.1" width="3.2" height="15.2" fill="#0fb04a" stroke="#111" stroke-width="1.15"/>
<line x1="843.52" y1="190.4" x2="843.52" y2="214.4" stroke="#111" stroke-width="1.1"/>
<rect x="841.92" y="200.1" width="3.2" height="7.4" fill="#ef4824" stroke="#111" stroke-width="1.15"/>
<line x1="848.64" y1="204.0" x2="848.64" y2="218.9" stroke="#111" stroke-width="1.1"/>
<rect x="847.04" y="206.3" width="3.2" height="1.7" fill="#0fb04a" stroke="#111" stroke-width="1.15"/>
<line x1="853.76" y1="205.9" x2="853.76" y2="218.9" stroke="#111" stroke-width="1.1"/>
<rect x="852.16" y="205.9" width="3.2" height="8.5" fill="#ef4824" stroke="#111" stroke-width="1.15"/>
<rect x="857.28" y="203.3" width="3.2" height="11.1" fill="#0fb04a" stroke="#111" stroke-width="1.15"/>
<rect x="862.40" y="203.3" width="3.2" height="11.1" fill="#ef4824" stroke="#111" stroke-width="1.15"/>
<rect x="867.52" y="214.4" width="3.2" height="33.3" fill="#ef4824" stroke="#111" stroke-width="1.15"/>
<line x1="874.25" y1="244.2" x2="874.25" y2="264.3" stroke="#111" stroke-width="1.1"/>
<rect x="872.65" y="247.7" width="3.2" height="11.7" fill="#ef4824" stroke="#111" stroke-width="1.15"/>
<rect x="877.77" y="239.0" width="3.2" height="20.4" fill="#0fb04a" stroke="#111" stroke-width="1.15"/>
<line x1="884.49" y1="232.5" x2="884.49" y2="248.7" stroke="#111" stroke-width="1.1"/>
<rect x="882.89" y="236.4" width="3.2" height="2.6" fill="#0fb04a" stroke="#111" stroke-width="1.15"/>
<rect x="888.01" y="236.0" width="3.2" height="17.3" fill="#ef4824" stroke="#111" stroke-width="1.15"/>
<line x1="894.73" y1="244.8" x2="894.73" y2="252.6" stroke="#111" stroke-width="1.1"/>
<rect x="893.13" y="250.7" width="3.2" height="1.9" fill="#0fb04a" stroke="#111" stroke-width="1.15"/>
<line x1="899.85" y1="248.5" x2="899.85" y2="259.1" stroke="#111" stroke-width="1.1"/>
<rect x="898.25" y="248.5" width="3.2" height="1.7" fill="#0fb04a" stroke="#111" stroke-width="1.15"/>
<line x1="904.98" y1="241.0" x2="904.98" y2="251.3" stroke="#111" stroke-width="1.1"/>
<rect x="903.38" y="248.5" width="3.2" height="2.8" fill="#ef4824" stroke="#111" stroke-width="1.15"/>
<rect x="908.50" y="238.0" width="3.2" height="13.3" fill="#0fb04a" stroke="#111" stroke-width="1.15"/>
<line x1="915.22" y1="215.2" x2="915.22" y2="238.0" stroke="#111" stroke-width="1.1"/>
<rect x="913.62" y="217.5" width="3.2" height="20.5" fill="#0fb04a" stroke="#111" stroke-width="1.15"/>
<line x1="920.34" y1="207.0" x2="920.34" y2="226.2" stroke="#111" stroke-width="1.1"/>
<rect x="918.74" y="217.5" width="3.2" height="5.8" fill="#ef4824" stroke="#111" stroke-width="1.15"/>
<line x1="925.46" y1="218.5" x2="925.46" y2="234.4" stroke="#111" stroke-width="1.1"/>
<rect x="923.86" y="222.8" width="3.2" height="1.7" fill="#0fb04a" stroke="#111" stroke-width="1.15"/>
<line x1="930.58" y1="209.2" x2="930.58" y2="223.3" stroke="#111" stroke-width="1.1"/>
<rect x="928.98" y="215.6" width="3.2" height="7.7" fill="#0fb04a" stroke="#111" stroke-width="1.15"/>
<rect x="934.11" y="193.3" width="3.2" height="21.6" fill="#0fb04a" stroke="#111" stroke-width="1.15"/>
<line x1="940.83" y1="183.2" x2="940.83" y2="208.4" stroke="#111" stroke-width="1.1"/>
<rect x="939.23" y="183.2" width="3.2" height="9.4" fill="#0fb04a" stroke="#111" stroke-width="1.15"/>
<rect x="944.35" y="183.2" width="3.2" height="20.9" fill="#ef4824" stroke="#111" stroke-width="1.15"/>
<line x1="951.07" y1="182.5" x2="951.07" y2="204.1" stroke="#111" stroke-width="1.1"/>
<rect x="949.47" y="195.0" width="3.2" height="9.1" fill="#0fb04a" stroke="#111" stroke-width="1.15"/>
<rect x="954.59" y="195.0" width="3.2" height="12.7" fill="#ef4824" stroke="#111" stroke-width="1.15"/>
<rect x="959.71" y="196.2" width="3.2" height="11.5" fill="#0fb04a" stroke="#111" stroke-width="1.15"/>
<rect x="964.84" y="177.8" width="3.2" height="18.1" fill="#0fb04a" stroke="#111" stroke-width="1.15"/>
<line x1="971.56" y1="177.8" x2="971.56" y2="194.5" stroke="#111" stroke-width="1.1"/>
<rect x="969.96" y="177.8" width="3.2" height="8.3" fill="#ef4824" stroke="#111" stroke-width="1.15"/>
<line x1="976.68" y1="168.5" x2="976.68" y2="191.9" stroke="#111" stroke-width="1.1"/>
<rect x="975.08" y="168.5" width="3.2" height="17.6" fill="#0fb04a" stroke="#111" stroke-width="1.15"/>
<line x1="981.80" y1="146.5" x2="981.80" y2="170.3" stroke="#111" stroke-width="1.1"/>
<rect x="980.20" y="167.1" width="3.2" height="1.7" fill="#0fb04a" stroke="#111" stroke-width="1.15"/>
<rect x="985.32" y="153.7" width="3.2" height="13.4" fill="#0fb04a" stroke="#111" stroke-width="1.15"/>
<line x1="992.04" y1="154.4" x2="992.04" y2="164.2" stroke="#111" stroke-width="1.1"/>
<rect x="990.44" y="154.4" width="3.2" height="4.6" fill="#ef4824" stroke="#111" stroke-width="1.15"/>
<line x1="648.9" y1="183.6" x2="1037.6" y2="183.6" stroke="#333" stroke-width="1.3"/>
<line x1="714.6" y1="325" x2="1037.6" y2="202.7" stroke="#111" stroke-width="1.1"/>
<path d="M134.6,494.8 Q136.7,498.2 138.8,494.8" fill="none" stroke="#13b04e" stroke-width="1.4"/>
<path d="M621.3,79.8 Q623.4,76.6 625.5,79.8" fill="none" stroke="#ef4824" stroke-width="1.4"/>
<path d="M1097.8,159.4 L1104.5,149.1 L1156.1,149.1 L1156.1,169.7 L1104.5,169.7 Z" fill="#ee4326"/>
<text x="1108.7" y="162.8" font-size="12" font-weight="bold" fill="#fff" textLength="42.9" lengthAdjust="spacingAndGlyphs">5.59715</text>
<path d="M1097.8,209.4 L1104.5,199.1 L1156.1,199.1 L1156.1,219.7 L1104.5,219.7 Z" fill="#a8262c"/>
<text x="1108.7" y="212.8" font-size="12" font-weight="bold" fill="#fff" textLength="42.9" lengthAdjust="spacingAndGlyphs">5.36017</text>
<path d="M1097.8,290.5 L1104.5,280.2 L1156.1,280.2 L1156.1,300.8 L1104.5,300.8 Z" fill="#1535ff"/>
<text x="1108.7" y="293.9" font-size="12" font-weight="bold" fill="#fff" textLength="42.9" lengthAdjust="spacingAndGlyphs">4.97030</text>
<path d="M1097.8,594.7 L1104.5,584.4 L1139.2,584.4 L1139.2,605.0 L1104.5,605.0 Z" fill="#ee4326"/>
<text x="1108.5" y="598.1" font-size="12" font-weight="bold" fill="#fff" textLength="27.0" lengthAdjust="spacingAndGlyphs">3192</text>
</svg>
</body></html>
